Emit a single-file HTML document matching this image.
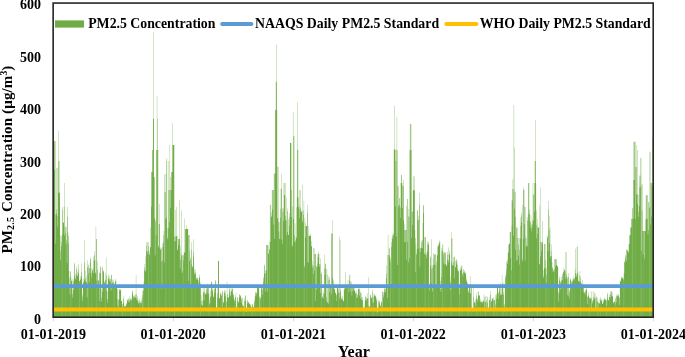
<!DOCTYPE html><html><head><meta charset="utf-8"><title>PM2.5 Concentration</title><style>html,body{margin:0;padding:0;background:#fff;overflow:hidden}</style></head><body><svg width="685" height="357" viewBox="0 0 685 357" style="display:block">
<rect width="685" height="357" fill="#fff"/>
<defs><clipPath id="cp"><rect x="53.2" y="3" width="600.1" height="314.4"/></clipPath></defs>
<g clip-path="url(#cp)"><g id="bars" fill="#70ad47"><path d="M53.40 141.0h0.329V317.4h-0.329zM53.73 141.0h0.329V317.4h-0.329zM54.06 170.0h0.329V317.4h-0.329zM54.39 141.0h0.329V317.4h-0.329zM54.71 141.0h0.329V317.4h-0.329zM55.04 141.0h0.329V317.4h-0.329zM55.37 214.4h0.329V317.4h-0.329zM55.70 243.6h0.329V317.4h-0.329zM56.03 209.6h0.329V317.4h-0.329zM56.36 168.0h0.329V317.4h-0.329zM56.69 213.8h0.329V317.4h-0.329zM57.01 226.8h0.329V317.4h-0.329zM57.34 168.0h0.329V317.4h-0.329zM57.67 216.2h0.329V317.4h-0.329zM58.00 130.7h0.329V317.4h-0.329zM58.33 161.0h0.329V317.4h-0.329zM58.66 192.8h0.329V317.4h-0.329zM58.99 192.8h0.329V317.4h-0.329zM59.31 161.0h0.329V317.4h-0.329zM59.64 192.8h0.329V317.4h-0.329zM59.97 251.2h0.329V317.4h-0.329zM60.30 260.2h0.329V317.4h-0.329zM60.63 235.2h0.329V317.4h-0.329zM60.96 246.2h0.329V317.4h-0.329zM61.29 242.1h0.329V317.4h-0.329zM61.61 236.2h0.329V317.4h-0.329zM61.94 233.9h0.329V317.4h-0.329zM62.27 207.0h0.329V317.4h-0.329zM62.60 210.0h0.329V317.4h-0.329zM62.93 223.0h0.329V317.4h-0.329zM63.26 221.9h0.329V317.4h-0.329zM63.59 223.0h0.329V317.4h-0.329zM63.91 206.6h0.329V317.4h-0.329zM64.24 183.0h0.329V317.4h-0.329zM64.57 235.5h0.329V317.4h-0.329zM64.90 226.8h0.329V317.4h-0.329zM65.23 233.2h0.329V317.4h-0.329zM65.56 226.8h0.329V317.4h-0.329zM65.89 243.9h0.329V317.4h-0.329zM66.21 226.8h0.329V317.4h-0.329zM66.54 240.6h0.329V317.4h-0.329zM66.87 263.0h0.329V317.4h-0.329zM67.20 207.0h0.329V317.4h-0.329zM67.53 217.1h0.329V317.4h-0.329zM67.86 232.5h0.329V317.4h-0.329zM68.19 235.7h0.329V317.4h-0.329zM68.52 243.3h0.329V317.4h-0.329zM68.84 270.9h0.329V317.4h-0.329zM69.17 278.1h0.329V317.4h-0.329zM69.50 285.5h0.329V317.4h-0.329zM69.83 294.3h0.329V317.4h-0.329zM70.16 271.4h0.329V317.4h-0.329zM70.49 271.2h0.329V317.4h-0.329zM70.82 276.1h0.329V317.4h-0.329zM71.14 279.4h0.329V317.4h-0.329zM71.47 281.0h0.329V317.4h-0.329zM71.80 281.3h0.329V317.4h-0.329zM72.13 297.4h0.329V317.4h-0.329zM72.46 294.0h0.329V317.4h-0.329zM72.79 278.6h0.329V317.4h-0.329zM73.12 290.3h0.329V317.4h-0.329zM73.44 281.2h0.329V317.4h-0.329zM73.77 279.6h0.329V317.4h-0.329zM74.10 262.7h0.329V317.4h-0.329zM74.43 264.2h0.329V317.4h-0.329zM74.76 276.1h0.329V317.4h-0.329zM75.09 278.8h0.329V317.4h-0.329zM75.42 273.2h0.329V317.4h-0.329zM75.74 279.6h0.329V317.4h-0.329zM76.07 275.3h0.329V317.4h-0.329zM76.40 268.7h0.329V317.4h-0.329zM76.73 266.2h0.329V317.4h-0.329zM77.06 271.8h0.329V317.4h-0.329zM77.39 276.2h0.329V317.4h-0.329zM77.72 275.2h0.329V317.4h-0.329zM78.04 263.9h0.329V317.4h-0.329zM78.37 273.6h0.329V317.4h-0.329zM78.70 269.6h0.329V317.4h-0.329zM79.03 280.9h0.329V317.4h-0.329zM79.36 280.6h0.329V317.4h-0.329zM79.69 281.2h0.329V317.4h-0.329zM80.02 276.0h0.329V317.4h-0.329zM80.34 280.1h0.329V317.4h-0.329zM80.67 279.0h0.329V317.4h-0.329zM81.00 276.9h0.329V317.4h-0.329zM81.33 263.4h0.329V317.4h-0.329zM81.66 272.1h0.329V317.4h-0.329zM81.99 296.8h0.329V317.4h-0.329zM82.32 293.8h0.329V317.4h-0.329zM82.64 300.7h0.329V317.4h-0.329zM82.97 278.3h0.329V317.4h-0.329zM83.30 282.7h0.329V317.4h-0.329zM83.63 282.6h0.329V317.4h-0.329zM83.96 279.7h0.329V317.4h-0.329zM84.29 262.4h0.329V317.4h-0.329zM84.62 240.0h0.329V317.4h-0.329zM84.94 281.2h0.329V317.4h-0.329zM85.27 278.2h0.329V317.4h-0.329zM85.60 270.4h0.329V317.4h-0.329zM85.93 281.9h0.329V317.4h-0.329zM86.26 282.3h0.329V317.4h-0.329zM86.59 275.4h0.329V317.4h-0.329zM86.92 297.6h0.329V317.4h-0.329zM87.24 260.2h0.329V317.4h-0.329zM87.57 267.2h0.329V317.4h-0.329zM87.90 264.3h0.329V317.4h-0.329zM88.23 265.6h0.329V317.4h-0.329zM88.56 273.6h0.329V317.4h-0.329zM88.89 268.5h0.329V317.4h-0.329zM89.22 282.1h0.329V317.4h-0.329zM89.54 267.9h0.329V317.4h-0.329zM89.87 262.6h0.329V317.4h-0.329zM90.20 258.9h0.329V317.4h-0.329zM90.53 257.5h0.329V317.4h-0.329zM90.86 273.2h0.329V317.4h-0.329zM91.19 277.5h0.329V317.4h-0.329zM91.52 268.1h0.329V317.4h-0.329zM91.84 272.4h0.329V317.4h-0.329zM92.17 269.7h0.329V317.4h-0.329zM92.50 270.3h0.329V317.4h-0.329zM92.83 268.3h0.329V317.4h-0.329zM93.16 273.2h0.329V317.4h-0.329zM93.49 256.5h0.329V317.4h-0.329zM93.82 260.9h0.329V317.4h-0.329zM94.14 255.5h0.329V317.4h-0.329zM94.47 251.4h0.329V317.4h-0.329zM94.80 259.9h0.329V317.4h-0.329zM95.13 272.5h0.329V317.4h-0.329zM95.46 273.5h0.329V317.4h-0.329zM95.79 226.6h0.329V317.4h-0.329zM96.12 239.0h0.329V317.4h-0.329zM96.44 239.0h0.329V317.4h-0.329zM96.77 280.3h0.329V317.4h-0.329zM97.10 261.5h0.329V317.4h-0.329zM97.43 269.8h0.329V317.4h-0.329zM97.76 287.0h0.329V317.4h-0.329zM98.09 280.2h0.329V317.4h-0.329zM98.42 280.8h0.329V317.4h-0.329zM98.75 280.4h0.329V317.4h-0.329zM99.07 272.6h0.329V317.4h-0.329zM99.40 273.3h0.329V317.4h-0.329zM99.73 300.9h0.329V317.4h-0.329zM100.06 273.0h0.329V317.4h-0.329zM100.39 266.6h0.329V317.4h-0.329zM100.72 266.7h0.329V317.4h-0.329zM101.05 288.7h0.329V317.4h-0.329zM101.37 298.1h0.329V317.4h-0.329zM101.70 301.7h0.329V317.4h-0.329zM102.03 266.5h0.329V317.4h-0.329zM102.36 268.2h0.329V317.4h-0.329zM102.69 292.0h0.329V317.4h-0.329zM103.02 271.1h0.329V317.4h-0.329zM103.35 270.6h0.329V317.4h-0.329zM103.67 272.2h0.329V317.4h-0.329zM104.00 281.4h0.329V317.4h-0.329zM104.33 283.2h0.329V317.4h-0.329zM104.66 282.3h0.329V317.4h-0.329zM104.99 272.8h0.329V317.4h-0.329zM105.32 279.5h0.329V317.4h-0.329zM105.65 280.2h0.329V317.4h-0.329zM105.97 257.6h0.329V317.4h-0.329zM106.30 275.4h0.329V317.4h-0.329zM106.63 290.7h0.329V317.4h-0.329zM106.96 299.0h0.329V317.4h-0.329zM107.29 291.4h0.329V317.4h-0.329zM107.62 302.4h0.329V317.4h-0.329zM107.95 276.8h0.329V317.4h-0.329zM108.27 274.4h0.329V317.4h-0.329zM108.60 279.0h0.329V317.4h-0.329zM108.93 279.3h0.329V317.4h-0.329zM109.26 280.9h0.329V317.4h-0.329zM109.59 276.2h0.329V317.4h-0.329zM109.92 282.3h0.329V317.4h-0.329zM110.25 279.3h0.329V317.4h-0.329zM110.57 279.0h0.329V317.4h-0.329zM110.90 290.4h0.329V317.4h-0.329zM111.23 275.0h0.329V317.4h-0.329zM111.56 274.7h0.329V317.4h-0.329zM111.89 284.3h0.329V317.4h-0.329zM112.22 279.7h0.329V317.4h-0.329zM112.55 282.3h0.329V317.4h-0.329zM112.87 282.0h0.329V317.4h-0.329zM113.20 279.3h0.329V317.4h-0.329zM113.53 282.8h0.329V317.4h-0.329zM113.86 285.4h0.329V317.4h-0.329zM114.19 283.5h0.329V317.4h-0.329zM114.52 285.1h0.329V317.4h-0.329zM114.85 283.0h0.329V317.4h-0.329zM115.17 280.8h0.329V317.4h-0.329zM115.50 281.0h0.329V317.4h-0.329zM115.83 278.5h0.329V317.4h-0.329zM116.16 285.3h0.329V317.4h-0.329zM116.49 286.8h0.329V317.4h-0.329zM116.82 287.8h0.329V317.4h-0.329zM117.15 289.0h0.329V317.4h-0.329zM117.47 305.2h0.329V317.4h-0.329zM117.80 299.0h0.329V317.4h-0.329zM118.13 308.0h0.329V317.4h-0.329zM118.46 299.8h0.329V317.4h-0.329zM118.79 299.5h0.329V317.4h-0.329zM119.12 289.3h0.329V317.4h-0.329zM119.45 289.1h0.329V317.4h-0.329zM119.77 290.6h0.329V317.4h-0.329zM120.10 288.8h0.329V317.4h-0.329zM120.43 290.6h0.329V317.4h-0.329zM120.76 290.0h0.329V317.4h-0.329zM121.09 300.6h0.329V317.4h-0.329zM121.42 301.0h0.329V317.4h-0.329zM121.75 301.3h0.329V317.4h-0.329zM122.07 304.4h0.329V317.4h-0.329zM122.40 307.4h0.329V317.4h-0.329zM122.73 303.9h0.329V317.4h-0.329zM123.06 298.4h0.329V317.4h-0.329zM123.39 302.7h0.329V317.4h-0.329zM123.72 296.3h0.329V317.4h-0.329zM124.05 305.8h0.329V317.4h-0.329zM124.37 306.5h0.329V317.4h-0.329zM124.70 306.8h0.329V317.4h-0.329zM125.03 305.9h0.329V317.4h-0.329zM125.36 305.8h0.329V317.4h-0.329zM125.69 306.4h0.329V317.4h-0.329zM126.02 303.9h0.329V317.4h-0.329zM126.35 305.2h0.329V317.4h-0.329zM126.67 303.1h0.329V317.4h-0.329zM127.00 301.0h0.329V317.4h-0.329zM127.33 300.0h0.329V317.4h-0.329zM127.66 299.0h0.329V317.4h-0.329zM127.99 298.5h0.329V317.4h-0.329zM128.32 302.1h0.329V317.4h-0.329zM128.65 299.3h0.329V317.4h-0.329zM128.98 302.2h0.329V317.4h-0.329zM129.30 296.4h0.329V317.4h-0.329zM129.63 300.5h0.329V317.4h-0.329zM129.96 299.4h0.329V317.4h-0.329zM130.29 297.9h0.329V317.4h-0.329zM130.62 300.0h0.329V317.4h-0.329zM130.95 299.6h0.329V317.4h-0.329zM131.28 298.3h0.329V317.4h-0.329zM131.60 300.4h0.329V317.4h-0.329zM131.93 293.5h0.329V317.4h-0.329zM132.26 291.2h0.329V317.4h-0.329zM132.59 290.6h0.329V317.4h-0.329zM132.92 295.6h0.329V317.4h-0.329zM133.25 298.6h0.329V317.4h-0.329zM133.58 296.6h0.329V317.4h-0.329zM133.90 295.0h0.329V317.4h-0.329zM134.23 295.8h0.329V317.4h-0.329zM134.56 297.5h0.329V317.4h-0.329zM134.89 297.6h0.329V317.4h-0.329zM135.22 294.2h0.329V317.4h-0.329zM135.55 297.3h0.329V317.4h-0.329zM135.88 275.1h0.329V317.4h-0.329zM136.20 299.4h0.329V317.4h-0.329zM136.53 294.1h0.329V317.4h-0.329zM136.86 298.1h0.329V317.4h-0.329zM137.19 295.8h0.329V317.4h-0.329zM137.52 300.4h0.329V317.4h-0.329zM137.85 300.9h0.329V317.4h-0.329zM138.18 303.3h0.329V317.4h-0.329zM138.50 303.2h0.329V317.4h-0.329zM138.83 298.4h0.329V317.4h-0.329zM139.16 299.9h0.329V317.4h-0.329zM139.49 302.8h0.329V317.4h-0.329zM139.82 302.4h0.329V317.4h-0.329zM140.15 302.5h0.329V317.4h-0.329zM140.48 301.2h0.329V317.4h-0.329zM140.80 304.5h0.329V317.4h-0.329zM141.13 303.0h0.329V317.4h-0.329zM141.46 300.8h0.329V317.4h-0.329zM141.79 298.3h0.329V317.4h-0.329zM142.12 295.3h0.329V317.4h-0.329zM142.45 290.6h0.329V317.4h-0.329zM142.78 308.3h0.329V317.4h-0.329zM143.10 287.5h0.329V317.4h-0.329zM143.43 290.8h0.329V317.4h-0.329zM143.76 281.4h0.329V317.4h-0.329zM144.09 270.7h0.329V317.4h-0.329zM144.42 267.5h0.329V317.4h-0.329zM144.75 264.1h0.329V317.4h-0.329zM145.08 270.3h0.329V317.4h-0.329zM145.40 256.5h0.329V317.4h-0.329zM145.73 271.4h0.329V317.4h-0.329zM146.06 251.6h0.329V317.4h-0.329zM146.39 245.7h0.329V317.4h-0.329zM146.72 241.7h0.329V317.4h-0.329zM147.05 253.9h0.329V317.4h-0.329zM147.38 242.0h0.329V317.4h-0.329zM147.70 251.3h0.329V317.4h-0.329zM148.03 242.0h0.329V317.4h-0.329zM148.36 245.8h0.329V317.4h-0.329zM148.69 250.3h0.329V317.4h-0.329zM149.02 255.2h0.329V317.4h-0.329zM149.35 251.2h0.329V317.4h-0.329zM149.68 253.9h0.329V317.4h-0.329zM150.00 246.9h0.329V317.4h-0.329zM150.33 227.6h0.329V317.4h-0.329zM150.66 247.2h0.329V317.4h-0.329zM150.99 172.0h0.329V317.4h-0.329zM151.32 206.4h0.329V317.4h-0.329zM151.65 172.0h0.329V317.4h-0.329zM151.98 172.0h0.329V317.4h-0.329zM152.30 150.0h0.329V317.4h-0.329zM152.63 150.0h0.329V317.4h-0.329zM152.96 119.0h0.329V317.4h-0.329zM153.29 119.0h0.329V317.4h-0.329zM153.62 32.2h0.329V317.4h-0.329zM153.95 177.0h0.329V317.4h-0.329zM154.28 218.0h0.329V317.4h-0.329zM154.60 177.0h0.329V317.4h-0.329zM154.93 255.3h0.329V317.4h-0.329zM155.26 219.6h0.329V317.4h-0.329zM155.59 221.6h0.329V317.4h-0.329zM155.92 235.3h0.329V317.4h-0.329zM156.25 150.0h0.329V317.4h-0.329zM156.58 150.0h0.329V317.4h-0.329zM156.90 95.7h0.329V317.4h-0.329zM157.23 119.0h0.329V317.4h-0.329zM157.56 150.0h0.329V317.4h-0.329zM157.89 150.0h0.329V317.4h-0.329zM158.22 245.9h0.329V317.4h-0.329zM158.55 247.3h0.329V317.4h-0.329zM158.88 224.0h0.329V317.4h-0.329zM159.21 204.0h0.329V317.4h-0.329zM159.53 224.0h0.329V317.4h-0.329zM159.86 247.9h0.329V317.4h-0.329zM160.19 250.1h0.329V317.4h-0.329zM160.52 248.9h0.329V317.4h-0.329zM160.85 246.9h0.329V317.4h-0.329zM161.18 261.5h0.329V317.4h-0.329zM161.51 248.2h0.329V317.4h-0.329zM161.83 288.4h0.329V317.4h-0.329zM162.16 260.7h0.329V317.4h-0.329zM162.49 243.6h0.329V317.4h-0.329zM162.82 246.9h0.329V317.4h-0.329zM163.15 242.2h0.329V317.4h-0.329zM163.48 235.0h0.329V317.4h-0.329zM163.81 231.0h0.329V317.4h-0.329zM164.13 174.0h0.329V317.4h-0.329zM164.46 262.4h0.329V317.4h-0.329zM164.79 191.7h0.329V317.4h-0.329zM165.12 191.7h0.329V317.4h-0.329zM165.45 218.9h0.329V317.4h-0.329zM165.78 174.0h0.329V317.4h-0.329zM166.11 217.8h0.329V317.4h-0.329zM166.43 161.0h0.329V317.4h-0.329zM166.76 158.0h0.329V317.4h-0.329zM167.09 237.4h0.329V317.4h-0.329zM167.42 228.0h0.329V317.4h-0.329zM167.75 239.6h0.329V317.4h-0.329zM168.08 228.0h0.329V317.4h-0.329zM168.41 190.0h0.329V317.4h-0.329zM168.73 161.0h0.329V317.4h-0.329zM169.06 222.0h0.329V317.4h-0.329zM169.39 190.0h0.329V317.4h-0.329zM169.72 145.0h0.329V317.4h-0.329zM170.05 190.0h0.329V317.4h-0.329zM170.38 207.8h0.329V317.4h-0.329zM170.71 177.0h0.329V317.4h-0.329zM171.03 190.0h0.329V317.4h-0.329zM171.36 172.0h0.329V317.4h-0.329zM171.69 172.0h0.329V317.4h-0.329zM172.02 172.0h0.329V317.4h-0.329zM172.35 145.0h0.329V317.4h-0.329zM172.68 123.3h0.329V317.4h-0.329zM173.01 145.0h0.329V317.4h-0.329zM173.33 145.0h0.329V317.4h-0.329zM173.66 145.0h0.329V317.4h-0.329zM173.99 145.0h0.329V317.4h-0.329zM174.32 236.4h0.329V317.4h-0.329zM174.65 241.4h0.329V317.4h-0.329zM174.98 210.0h0.329V317.4h-0.329zM175.31 236.4h0.329V317.4h-0.329zM175.63 240.9h0.329V317.4h-0.329zM175.96 236.4h0.329V317.4h-0.329zM176.29 236.0h0.329V317.4h-0.329zM176.62 207.0h0.329V317.4h-0.329zM176.95 236.0h0.329V317.4h-0.329zM177.28 249.2h0.329V317.4h-0.329zM177.61 250.4h0.329V317.4h-0.329zM177.93 239.0h0.329V317.4h-0.329zM178.26 239.0h0.329V317.4h-0.329zM178.59 244.9h0.329V317.4h-0.329zM178.92 239.0h0.329V317.4h-0.329zM179.25 239.0h0.329V317.4h-0.329zM179.58 199.7h0.329V317.4h-0.329zM179.91 268.6h0.329V317.4h-0.329zM180.23 259.9h0.329V317.4h-0.329zM180.56 246.0h0.329V317.4h-0.329zM180.89 253.3h0.329V317.4h-0.329zM181.22 210.5h0.329V317.4h-0.329zM181.55 256.3h0.329V317.4h-0.329zM181.88 272.9h0.329V317.4h-0.329zM182.21 255.0h0.329V317.4h-0.329zM182.53 271.2h0.329V317.4h-0.329zM182.86 255.0h0.329V317.4h-0.329zM183.19 255.2h0.329V317.4h-0.329zM183.52 260.4h0.329V317.4h-0.329zM183.85 251.9h0.329V317.4h-0.329zM184.18 218.8h0.329V317.4h-0.329zM184.51 252.9h0.329V317.4h-0.329zM184.83 252.1h0.329V317.4h-0.329zM185.16 229.0h0.329V317.4h-0.329zM185.49 229.0h0.329V317.4h-0.329zM185.82 229.0h0.329V317.4h-0.329zM186.15 229.0h0.329V317.4h-0.329zM186.48 225.4h0.329V317.4h-0.329zM186.81 229.0h0.329V317.4h-0.329zM187.13 229.0h0.329V317.4h-0.329zM187.46 229.0h0.329V317.4h-0.329zM187.79 229.0h0.329V317.4h-0.329zM188.12 235.0h0.329V317.4h-0.329zM188.45 280.9h0.329V317.4h-0.329zM188.78 235.0h0.329V317.4h-0.329zM189.11 235.0h0.329V317.4h-0.329zM189.44 260.9h0.329V317.4h-0.329zM189.76 250.6h0.329V317.4h-0.329zM190.09 259.4h0.329V317.4h-0.329zM190.42 285.3h0.329V317.4h-0.329zM190.75 257.4h0.329V317.4h-0.329zM191.08 242.2h0.329V317.4h-0.329zM191.41 249.5h0.329V317.4h-0.329zM191.74 264.4h0.329V317.4h-0.329zM192.06 266.0h0.329V317.4h-0.329zM192.39 267.5h0.329V317.4h-0.329zM192.72 266.6h0.329V317.4h-0.329zM193.05 239.3h0.329V317.4h-0.329zM193.38 257.2h0.329V317.4h-0.329zM193.71 251.7h0.329V317.4h-0.329zM194.04 272.4h0.329V317.4h-0.329zM194.36 269.0h0.329V317.4h-0.329zM194.69 274.5h0.329V317.4h-0.329zM195.02 274.3h0.329V317.4h-0.329zM195.35 272.5h0.329V317.4h-0.329zM195.68 269.4h0.329V317.4h-0.329zM196.01 277.6h0.329V317.4h-0.329zM196.34 278.0h0.329V317.4h-0.329zM196.66 280.0h0.329V317.4h-0.329zM196.99 277.7h0.329V317.4h-0.329zM197.32 279.6h0.329V317.4h-0.329zM197.65 278.1h0.329V317.4h-0.329zM197.98 282.1h0.329V317.4h-0.329zM198.31 279.8h0.329V317.4h-0.329zM198.64 284.4h0.329V317.4h-0.329zM198.96 276.7h0.329V317.4h-0.329zM199.29 274.6h0.329V317.4h-0.329zM199.62 278.1h0.329V317.4h-0.329zM199.95 283.4h0.329V317.4h-0.329zM200.28 282.5h0.329V317.4h-0.329zM200.61 286.3h0.329V317.4h-0.329zM200.94 295.0h0.329V317.4h-0.329zM201.26 304.6h0.329V317.4h-0.329zM201.59 300.9h0.329V317.4h-0.329zM201.92 305.4h0.329V317.4h-0.329zM202.25 300.3h0.329V317.4h-0.329zM202.58 305.4h0.329V317.4h-0.329zM202.91 287.1h0.329V317.4h-0.329zM203.24 292.5h0.329V317.4h-0.329zM203.56 292.3h0.329V317.4h-0.329zM203.89 300.2h0.329V317.4h-0.329zM204.22 287.3h0.329V317.4h-0.329zM204.55 291.5h0.329V317.4h-0.329zM204.88 293.7h0.329V317.4h-0.329zM205.21 294.3h0.329V317.4h-0.329zM205.54 293.2h0.329V317.4h-0.329zM205.86 294.4h0.329V317.4h-0.329zM206.19 286.3h0.329V317.4h-0.329zM206.52 291.4h0.329V317.4h-0.329zM206.85 288.8h0.329V317.4h-0.329zM207.18 283.7h0.329V317.4h-0.329zM207.51 286.3h0.329V317.4h-0.329zM207.84 293.9h0.329V317.4h-0.329zM208.16 287.6h0.329V317.4h-0.329zM208.49 286.5h0.329V317.4h-0.329zM208.82 293.3h0.329V317.4h-0.329zM209.15 299.6h0.329V317.4h-0.329zM209.48 304.5h0.329V317.4h-0.329zM209.81 303.3h0.329V317.4h-0.329zM210.14 290.6h0.329V317.4h-0.329zM210.46 296.8h0.329V317.4h-0.329zM210.79 296.4h0.329V317.4h-0.329zM211.12 282.4h0.329V317.4h-0.329zM211.45 282.3h0.329V317.4h-0.329zM211.78 281.3h0.329V317.4h-0.329zM212.11 289.8h0.329V317.4h-0.329zM212.44 291.8h0.329V317.4h-0.329zM212.76 286.3h0.329V317.4h-0.329zM213.09 297.6h0.329V317.4h-0.329zM213.42 295.4h0.329V317.4h-0.329zM213.75 296.8h0.329V317.4h-0.329zM214.08 289.0h0.329V317.4h-0.329zM214.41 288.6h0.329V317.4h-0.329zM214.74 293.3h0.329V317.4h-0.329zM215.06 283.4h0.329V317.4h-0.329zM215.39 279.8h0.329V317.4h-0.329zM215.72 280.6h0.329V317.4h-0.329zM216.05 308.2h0.329V317.4h-0.329zM216.38 307.8h0.329V317.4h-0.329zM216.71 306.9h0.329V317.4h-0.329zM217.04 297.3h0.329V317.4h-0.329zM217.36 293.2h0.329V317.4h-0.329zM217.69 286.4h0.329V317.4h-0.329zM218.02 260.9h0.329V317.4h-0.329zM218.35 260.9h0.329V317.4h-0.329zM218.68 261.0h0.329V317.4h-0.329zM219.01 298.3h0.329V317.4h-0.329zM219.34 298.2h0.329V317.4h-0.329zM219.67 298.3h0.329V317.4h-0.329zM219.99 291.8h0.329V317.4h-0.329zM220.32 294.3h0.329V317.4h-0.329zM220.65 294.3h0.329V317.4h-0.329zM220.98 296.1h0.329V317.4h-0.329zM221.31 293.6h0.329V317.4h-0.329zM221.64 295.4h0.329V317.4h-0.329zM221.97 306.9h0.329V317.4h-0.329zM222.29 290.5h0.329V317.4h-0.329zM222.62 292.0h0.329V317.4h-0.329zM222.95 303.3h0.329V317.4h-0.329zM223.28 302.2h0.329V317.4h-0.329zM223.61 301.6h0.329V317.4h-0.329zM223.94 292.2h0.329V317.4h-0.329zM224.27 292.5h0.329V317.4h-0.329zM224.59 289.7h0.329V317.4h-0.329zM224.92 296.3h0.329V317.4h-0.329zM225.25 290.8h0.329V317.4h-0.329zM225.58 294.2h0.329V317.4h-0.329zM225.91 307.2h0.329V317.4h-0.329zM226.24 301.2h0.329V317.4h-0.329zM226.57 301.6h0.329V317.4h-0.329zM226.89 281.7h0.329V317.4h-0.329zM227.22 297.1h0.329V317.4h-0.329zM227.55 294.3h0.329V317.4h-0.329zM227.88 297.5h0.329V317.4h-0.329zM228.21 297.8h0.329V317.4h-0.329zM228.54 297.5h0.329V317.4h-0.329zM228.87 294.2h0.329V317.4h-0.329zM229.19 289.2h0.329V317.4h-0.329zM229.52 287.1h0.329V317.4h-0.329zM229.85 291.8h0.329V317.4h-0.329zM230.18 296.2h0.329V317.4h-0.329zM230.51 295.2h0.329V317.4h-0.329zM230.84 287.5h0.329V317.4h-0.329zM231.17 290.8h0.329V317.4h-0.329zM231.49 291.6h0.329V317.4h-0.329zM231.82 288.9h0.329V317.4h-0.329zM232.15 287.0h0.329V317.4h-0.329zM232.48 289.2h0.329V317.4h-0.329zM232.81 292.9h0.329V317.4h-0.329zM233.14 295.0h0.329V317.4h-0.329zM233.47 295.1h0.329V317.4h-0.329zM233.79 298.5h0.329V317.4h-0.329zM234.12 300.3h0.329V317.4h-0.329zM234.45 299.4h0.329V317.4h-0.329zM234.78 301.6h0.329V317.4h-0.329zM235.11 297.0h0.329V317.4h-0.329zM235.44 296.7h0.329V317.4h-0.329zM235.77 293.2h0.329V317.4h-0.329zM236.09 310.4h0.329V317.4h-0.329zM236.42 311.6h0.329V317.4h-0.329zM236.75 306.5h0.329V317.4h-0.329zM237.08 298.6h0.329V317.4h-0.329zM237.41 297.1h0.329V317.4h-0.329zM237.74 301.0h0.329V317.4h-0.329zM238.07 301.3h0.329V317.4h-0.329zM238.39 303.0h0.329V317.4h-0.329zM238.72 301.8h0.329V317.4h-0.329zM239.05 294.1h0.329V317.4h-0.329zM239.38 295.0h0.329V317.4h-0.329zM239.71 297.6h0.329V317.4h-0.329zM240.04 296.6h0.329V317.4h-0.329zM240.37 295.7h0.329V317.4h-0.329zM240.69 294.9h0.329V317.4h-0.329zM241.02 298.9h0.329V317.4h-0.329zM241.35 298.0h0.329V317.4h-0.329zM241.68 302.5h0.329V317.4h-0.329zM242.01 304.5h0.329V317.4h-0.329zM242.34 297.6h0.329V317.4h-0.329zM242.67 306.0h0.329V317.4h-0.329zM242.99 306.0h0.329V317.4h-0.329zM243.32 305.6h0.329V317.4h-0.329zM243.65 306.3h0.329V317.4h-0.329zM243.98 301.0h0.329V317.4h-0.329zM244.31 309.9h0.329V317.4h-0.329zM244.64 298.2h0.329V317.4h-0.329zM244.97 295.4h0.329V317.4h-0.329zM245.29 301.1h0.329V317.4h-0.329zM245.62 295.5h0.329V317.4h-0.329zM245.95 311.4h0.329V317.4h-0.329zM246.28 310.4h0.329V317.4h-0.329zM246.61 311.7h0.329V317.4h-0.329zM246.94 299.8h0.329V317.4h-0.329zM247.27 300.5h0.329V317.4h-0.329zM247.59 303.5h0.329V317.4h-0.329zM247.92 302.0h0.329V317.4h-0.329zM248.25 302.3h0.329V317.4h-0.329zM248.58 302.7h0.329V317.4h-0.329zM248.91 302.8h0.329V317.4h-0.329zM249.24 304.1h0.329V317.4h-0.329zM249.57 304.5h0.329V317.4h-0.329zM249.90 304.1h0.329V317.4h-0.329zM250.22 305.8h0.329V317.4h-0.329zM250.55 304.4h0.329V317.4h-0.329zM250.88 307.0h0.329V317.4h-0.329zM251.21 306.9h0.329V317.4h-0.329zM251.54 307.9h0.329V317.4h-0.329zM251.87 304.9h0.329V317.4h-0.329zM252.20 304.3h0.329V317.4h-0.329zM252.52 303.9h0.329V317.4h-0.329zM252.85 306.6h0.329V317.4h-0.329zM253.18 307.6h0.329V317.4h-0.329zM253.51 307.7h0.329V317.4h-0.329zM253.84 306.2h0.329V317.4h-0.329zM254.17 302.2h0.329V317.4h-0.329zM254.50 300.5h0.329V317.4h-0.329zM254.82 296.3h0.329V317.4h-0.329zM255.15 291.7h0.329V317.4h-0.329zM255.48 292.9h0.329V317.4h-0.329zM255.81 296.2h0.329V317.4h-0.329zM256.14 292.5h0.329V317.4h-0.329zM256.47 293.6h0.329V317.4h-0.329zM256.80 292.4h0.329V317.4h-0.329zM257.12 286.4h0.329V317.4h-0.329zM257.45 286.2h0.329V317.4h-0.329zM257.78 288.1h0.329V317.4h-0.329zM258.11 286.1h0.329V317.4h-0.329zM258.44 286.0h0.329V317.4h-0.329zM258.77 286.9h0.329V317.4h-0.329zM259.10 297.4h0.329V317.4h-0.329zM259.42 308.9h0.329V317.4h-0.329zM259.75 295.7h0.329V317.4h-0.329zM260.08 298.9h0.329V317.4h-0.329zM260.41 297.6h0.329V317.4h-0.329zM260.74 297.0h0.329V317.4h-0.329zM261.07 287.6h0.329V317.4h-0.329zM261.40 286.7h0.329V317.4h-0.329zM261.72 287.9h0.329V317.4h-0.329zM262.05 294.7h0.329V317.4h-0.329zM262.38 290.0h0.329V317.4h-0.329zM262.71 286.1h0.329V317.4h-0.329zM263.04 282.5h0.329V317.4h-0.329zM263.37 277.1h0.329V317.4h-0.329zM263.70 278.5h0.329V317.4h-0.329zM264.02 273.5h0.329V317.4h-0.329zM264.35 265.4h0.329V317.4h-0.329zM264.68 264.5h0.329V317.4h-0.329zM265.01 273.2h0.329V317.4h-0.329zM265.34 270.0h0.329V317.4h-0.329zM265.67 291.4h0.329V317.4h-0.329zM266.00 270.5h0.329V317.4h-0.329zM266.32 245.0h0.329V317.4h-0.329zM266.65 245.0h0.329V317.4h-0.329zM266.98 291.9h0.329V317.4h-0.329zM267.31 245.0h0.329V317.4h-0.329zM267.64 245.0h0.329V317.4h-0.329zM267.97 245.5h0.329V317.4h-0.329zM268.30 253.1h0.329V317.4h-0.329zM268.62 254.0h0.329V317.4h-0.329zM268.95 240.6h0.329V317.4h-0.329zM269.28 249.3h0.329V317.4h-0.329zM269.61 249.7h0.329V317.4h-0.329zM269.94 204.8h0.329V317.4h-0.329zM270.27 242.0h0.329V317.4h-0.329zM270.60 204.8h0.329V317.4h-0.329zM270.92 216.8h0.329V317.4h-0.329zM271.25 216.6h0.329V317.4h-0.329zM271.58 212.4h0.329V317.4h-0.329zM271.91 190.0h0.329V317.4h-0.329zM272.24 190.0h0.329V317.4h-0.329zM272.57 209.3h0.329V317.4h-0.329zM272.90 190.0h0.329V317.4h-0.329zM273.22 190.0h0.329V317.4h-0.329zM273.55 224.4h0.329V317.4h-0.329zM273.88 173.4h0.329V317.4h-0.329zM274.21 238.8h0.329V317.4h-0.329zM274.54 173.4h0.329V317.4h-0.329zM274.87 173.4h0.329V317.4h-0.329zM275.20 110.0h0.329V317.4h-0.329zM275.52 110.0h0.329V317.4h-0.329zM275.85 81.7h0.329V317.4h-0.329zM276.18 44.4h0.329V317.4h-0.329zM276.51 81.7h0.329V317.4h-0.329zM276.84 110.0h0.329V317.4h-0.329zM277.17 218.3h0.329V317.4h-0.329zM277.50 166.8h0.329V317.4h-0.329zM277.82 218.3h0.329V317.4h-0.329zM278.15 166.8h0.329V317.4h-0.329zM278.48 222.0h0.329V317.4h-0.329zM278.81 231.5h0.329V317.4h-0.329zM279.14 239.0h0.329V317.4h-0.329zM279.47 222.0h0.329V317.4h-0.329zM279.80 239.0h0.329V317.4h-0.329zM280.13 208.8h0.329V317.4h-0.329zM280.45 217.8h0.329V317.4h-0.329zM280.78 188.7h0.329V317.4h-0.329zM281.11 174.0h0.329V317.4h-0.329zM281.44 188.7h0.329V317.4h-0.329zM281.77 239.7h0.329V317.4h-0.329zM282.10 207.7h0.329V317.4h-0.329zM282.43 244.0h0.329V317.4h-0.329zM282.75 211.7h0.329V317.4h-0.329zM283.08 221.2h0.329V317.4h-0.329zM283.41 208.6h0.329V317.4h-0.329zM283.74 183.0h0.329V317.4h-0.329zM284.07 195.0h0.329V317.4h-0.329zM284.40 183.0h0.329V317.4h-0.329zM284.73 195.0h0.329V317.4h-0.329zM285.05 183.0h0.329V317.4h-0.329zM285.38 220.1h0.329V317.4h-0.329zM285.71 216.1h0.329V317.4h-0.329zM286.04 197.5h0.329V317.4h-0.329zM286.37 220.4h0.329V317.4h-0.329zM286.70 235.0h0.329V317.4h-0.329zM287.03 211.2h0.329V317.4h-0.329zM287.35 232.0h0.329V317.4h-0.329zM287.68 208.5h0.329V317.4h-0.329zM288.01 235.0h0.329V317.4h-0.329zM288.34 219.3h0.329V317.4h-0.329zM288.67 235.0h0.329V317.4h-0.329zM289.00 217.3h0.329V317.4h-0.329zM289.33 225.8h0.329V317.4h-0.329zM289.65 213.1h0.329V317.4h-0.329zM289.98 143.0h0.329V317.4h-0.329zM290.31 143.0h0.329V317.4h-0.329zM290.64 143.0h0.329V317.4h-0.329zM290.97 143.0h0.329V317.4h-0.329zM291.30 217.0h0.329V317.4h-0.329zM291.63 190.0h0.329V317.4h-0.329zM291.95 246.8h0.329V317.4h-0.329zM292.28 206.5h0.329V317.4h-0.329zM292.61 245.2h0.329V317.4h-0.329zM292.94 112.3h0.329V317.4h-0.329zM293.27 219.0h0.329V317.4h-0.329zM293.60 136.0h0.329V317.4h-0.329zM293.93 136.0h0.329V317.4h-0.329zM294.25 242.0h0.329V317.4h-0.329zM294.58 235.5h0.329V317.4h-0.329zM294.91 223.5h0.329V317.4h-0.329zM295.24 242.0h0.329V317.4h-0.329zM295.57 239.9h0.329V317.4h-0.329zM295.90 237.1h0.329V317.4h-0.329zM296.23 207.3h0.329V317.4h-0.329zM296.55 237.9h0.329V317.4h-0.329zM296.88 197.5h0.329V317.4h-0.329zM297.21 150.0h0.329V317.4h-0.329zM297.54 102.2h0.329V317.4h-0.329zM297.87 150.0h0.329V317.4h-0.329zM298.20 197.5h0.329V317.4h-0.329zM298.53 207.3h0.329V317.4h-0.329zM298.85 205.8h0.329V317.4h-0.329zM299.18 218.1h0.329V317.4h-0.329zM299.51 190.0h0.329V317.4h-0.329zM299.84 209.5h0.329V317.4h-0.329zM300.17 190.0h0.329V317.4h-0.329zM300.50 207.6h0.329V317.4h-0.329zM300.83 211.7h0.329V317.4h-0.329zM301.15 210.3h0.329V317.4h-0.329zM301.48 211.8h0.329V317.4h-0.329zM301.81 211.7h0.329V317.4h-0.329zM302.14 220.6h0.329V317.4h-0.329zM302.47 184.4h0.329V317.4h-0.329zM302.80 222.7h0.329V317.4h-0.329zM303.13 215.0h0.329V317.4h-0.329zM303.45 210.4h0.329V317.4h-0.329zM303.78 200.4h0.329V317.4h-0.329zM304.11 265.2h0.329V317.4h-0.329zM304.44 267.3h0.329V317.4h-0.329zM304.77 218.3h0.329V317.4h-0.329zM305.10 237.6h0.329V317.4h-0.329zM305.43 222.5h0.329V317.4h-0.329zM305.75 226.0h0.329V317.4h-0.329zM306.08 226.0h0.329V317.4h-0.329zM306.41 226.0h0.329V317.4h-0.329zM306.74 226.0h0.329V317.4h-0.329zM307.07 213.0h0.329V317.4h-0.329zM307.40 204.8h0.329V317.4h-0.329zM307.73 262.6h0.329V317.4h-0.329zM308.05 226.0h0.329V317.4h-0.329zM308.38 262.4h0.329V317.4h-0.329zM308.71 236.0h0.329V317.4h-0.329zM309.04 236.0h0.329V317.4h-0.329zM309.37 234.4h0.329V317.4h-0.329zM309.70 236.0h0.329V317.4h-0.329zM310.03 233.5h0.329V317.4h-0.329zM310.36 236.0h0.329V317.4h-0.329zM310.68 236.0h0.329V317.4h-0.329zM311.01 240.9h0.329V317.4h-0.329zM311.34 246.1h0.329V317.4h-0.329zM311.67 246.6h0.329V317.4h-0.329zM312.00 264.8h0.329V317.4h-0.329zM312.33 260.7h0.329V317.4h-0.329zM312.66 268.0h0.329V317.4h-0.329zM312.98 274.0h0.329V317.4h-0.329zM313.31 248.0h0.329V317.4h-0.329zM313.64 265.9h0.329V317.4h-0.329zM313.97 248.0h0.329V317.4h-0.329zM314.30 270.6h0.329V317.4h-0.329zM314.63 254.0h0.329V317.4h-0.329zM314.96 301.1h0.329V317.4h-0.329zM315.28 254.0h0.329V317.4h-0.329zM315.61 254.0h0.329V317.4h-0.329zM315.94 266.1h0.329V317.4h-0.329zM316.27 289.7h0.329V317.4h-0.329zM316.60 266.1h0.329V317.4h-0.329zM316.93 267.3h0.329V317.4h-0.329zM317.26 263.6h0.329V317.4h-0.329zM317.58 254.0h0.329V317.4h-0.329zM317.91 257.0h0.329V317.4h-0.329zM318.24 254.0h0.329V317.4h-0.329zM318.57 251.6h0.329V317.4h-0.329zM318.90 254.0h0.329V317.4h-0.329zM319.23 266.4h0.329V317.4h-0.329zM319.56 264.0h0.329V317.4h-0.329zM319.88 264.3h0.329V317.4h-0.329zM320.21 293.1h0.329V317.4h-0.329zM320.54 258.4h0.329V317.4h-0.329zM320.87 273.5h0.329V317.4h-0.329zM321.20 272.1h0.329V317.4h-0.329zM321.53 273.9h0.329V317.4h-0.329zM321.86 297.6h0.329V317.4h-0.329zM322.18 296.2h0.329V317.4h-0.329zM322.51 297.8h0.329V317.4h-0.329zM322.84 290.4h0.329V317.4h-0.329zM323.17 293.6h0.329V317.4h-0.329zM323.50 298.8h0.329V317.4h-0.329zM323.83 293.7h0.329V317.4h-0.329zM324.16 268.1h0.329V317.4h-0.329zM324.48 254.6h0.329V317.4h-0.329zM324.81 274.9h0.329V317.4h-0.329zM325.14 264.1h0.329V317.4h-0.329zM325.47 263.5h0.329V317.4h-0.329zM325.80 269.3h0.329V317.4h-0.329zM326.13 297.1h0.329V317.4h-0.329zM326.46 301.3h0.329V317.4h-0.329zM326.78 268.8h0.329V317.4h-0.329zM327.11 274.5h0.329V317.4h-0.329zM327.44 302.5h0.329V317.4h-0.329zM327.77 302.7h0.329V317.4h-0.329zM328.10 303.8h0.329V317.4h-0.329zM328.43 276.3h0.329V317.4h-0.329zM328.76 279.6h0.329V317.4h-0.329zM329.08 277.2h0.329V317.4h-0.329zM329.41 279.9h0.329V317.4h-0.329zM329.74 292.3h0.329V317.4h-0.329zM330.07 285.3h0.329V317.4h-0.329zM330.40 285.3h0.329V317.4h-0.329zM330.73 285.1h0.329V317.4h-0.329zM331.06 294.2h0.329V317.4h-0.329zM331.38 233.4h0.329V317.4h-0.329zM331.71 233.4h0.329V317.4h-0.329zM332.04 220.3h0.329V317.4h-0.329zM332.37 233.4h0.329V317.4h-0.329zM332.70 278.1h0.329V317.4h-0.329zM333.03 283.3h0.329V317.4h-0.329zM333.36 279.9h0.329V317.4h-0.329zM333.68 285.3h0.329V317.4h-0.329zM334.01 289.7h0.329V317.4h-0.329zM334.34 285.2h0.329V317.4h-0.329zM334.67 289.0h0.329V317.4h-0.329zM335.00 293.2h0.329V317.4h-0.329zM335.33 291.8h0.329V317.4h-0.329zM335.66 293.0h0.329V317.4h-0.329zM335.98 300.9h0.329V317.4h-0.329zM336.31 295.3h0.329V317.4h-0.329zM336.64 294.6h0.329V317.4h-0.329zM336.97 287.1h0.329V317.4h-0.329zM337.30 287.8h0.329V317.4h-0.329zM337.63 286.6h0.329V317.4h-0.329zM337.96 290.1h0.329V317.4h-0.329zM338.28 286.6h0.329V317.4h-0.329zM338.61 293.1h0.329V317.4h-0.329zM338.94 292.7h0.329V317.4h-0.329zM339.27 298.7h0.329V317.4h-0.329zM339.60 236.8h0.329V317.4h-0.329zM339.93 240.0h0.329V317.4h-0.329zM340.26 291.4h0.329V317.4h-0.329zM340.59 289.4h0.329V317.4h-0.329zM340.91 296.6h0.329V317.4h-0.329zM341.24 299.2h0.329V317.4h-0.329zM341.57 297.9h0.329V317.4h-0.329zM341.90 299.6h0.329V317.4h-0.329zM342.23 299.2h0.329V317.4h-0.329zM342.56 295.7h0.329V317.4h-0.329zM342.89 300.6h0.329V317.4h-0.329zM343.21 301.2h0.329V317.4h-0.329zM343.54 301.0h0.329V317.4h-0.329zM343.87 289.3h0.329V317.4h-0.329zM344.20 289.8h0.329V317.4h-0.329zM344.53 286.8h0.329V317.4h-0.329zM344.86 284.7h0.329V317.4h-0.329zM345.19 271.8h0.329V317.4h-0.329zM345.51 286.5h0.329V317.4h-0.329zM345.84 286.2h0.329V317.4h-0.329zM346.17 287.8h0.329V317.4h-0.329zM346.50 287.5h0.329V317.4h-0.329zM346.83 287.4h0.329V317.4h-0.329zM347.16 285.6h0.329V317.4h-0.329zM347.49 284.8h0.329V317.4h-0.329zM347.81 279.7h0.329V317.4h-0.329zM348.14 288.1h0.329V317.4h-0.329zM348.47 286.3h0.329V317.4h-0.329zM348.80 291.9h0.329V317.4h-0.329zM349.13 275.5h0.329V317.4h-0.329zM349.46 280.4h0.329V317.4h-0.329zM349.79 274.5h0.329V317.4h-0.329zM350.11 284.7h0.329V317.4h-0.329zM350.44 281.6h0.329V317.4h-0.329zM350.77 291.6h0.329V317.4h-0.329zM351.10 287.9h0.329V317.4h-0.329zM351.43 281.5h0.329V317.4h-0.329zM351.76 295.5h0.329V317.4h-0.329zM352.09 287.1h0.329V317.4h-0.329zM352.41 286.8h0.329V317.4h-0.329zM352.74 290.7h0.329V317.4h-0.329zM353.07 286.7h0.329V317.4h-0.329zM353.40 286.5h0.329V317.4h-0.329zM353.73 288.6h0.329V317.4h-0.329zM354.06 288.1h0.329V317.4h-0.329zM354.39 290.9h0.329V317.4h-0.329zM354.71 290.6h0.329V317.4h-0.329zM355.04 293.5h0.329V317.4h-0.329zM355.37 292.4h0.329V317.4h-0.329zM355.70 291.8h0.329V317.4h-0.329zM356.03 294.1h0.329V317.4h-0.329zM356.36 297.9h0.329V317.4h-0.329zM356.69 290.3h0.329V317.4h-0.329zM357.01 293.9h0.329V317.4h-0.329zM357.34 295.2h0.329V317.4h-0.329zM357.67 297.8h0.329V317.4h-0.329zM358.00 289.2h0.329V317.4h-0.329zM358.33 288.4h0.329V317.4h-0.329zM358.66 288.7h0.329V317.4h-0.329zM358.99 295.5h0.329V317.4h-0.329zM359.31 289.6h0.329V317.4h-0.329zM359.64 288.0h0.329V317.4h-0.329zM359.97 298.4h0.329V317.4h-0.329zM360.30 291.2h0.329V317.4h-0.329zM360.63 292.9h0.329V317.4h-0.329zM360.96 296.9h0.329V317.4h-0.329zM361.29 292.9h0.329V317.4h-0.329zM361.61 299.5h0.329V317.4h-0.329zM361.94 299.7h0.329V317.4h-0.329zM362.27 297.0h0.329V317.4h-0.329zM362.60 300.5h0.329V317.4h-0.329zM362.93 309.1h0.329V317.4h-0.329zM363.26 308.8h0.329V317.4h-0.329zM363.59 311.2h0.329V317.4h-0.329zM363.91 304.7h0.329V317.4h-0.329zM364.24 309.5h0.329V317.4h-0.329zM364.57 307.1h0.329V317.4h-0.329zM364.90 299.9h0.329V317.4h-0.329zM365.23 295.4h0.329V317.4h-0.329zM365.56 297.3h0.329V317.4h-0.329zM365.89 300.9h0.329V317.4h-0.329zM366.21 297.2h0.329V317.4h-0.329zM366.54 299.2h0.329V317.4h-0.329zM366.87 298.1h0.329V317.4h-0.329zM367.20 293.2h0.329V317.4h-0.329zM367.53 299.0h0.329V317.4h-0.329zM367.86 297.9h0.329V317.4h-0.329zM368.19 305.5h0.329V317.4h-0.329zM368.52 277.3h0.329V317.4h-0.329zM368.84 310.0h0.329V317.4h-0.329zM369.17 306.5h0.329V317.4h-0.329zM369.50 306.4h0.329V317.4h-0.329zM369.83 306.9h0.329V317.4h-0.329zM370.16 294.6h0.329V317.4h-0.329zM370.49 295.2h0.329V317.4h-0.329zM370.82 297.0h0.329V317.4h-0.329zM371.14 297.7h0.329V317.4h-0.329zM371.47 297.8h0.329V317.4h-0.329zM371.80 298.2h0.329V317.4h-0.329zM372.13 289.5h0.329V317.4h-0.329zM372.46 292.4h0.329V317.4h-0.329zM372.79 302.6h0.329V317.4h-0.329zM373.12 296.9h0.329V317.4h-0.329zM373.44 302.6h0.329V317.4h-0.329zM373.77 294.6h0.329V317.4h-0.329zM374.10 293.8h0.329V317.4h-0.329zM374.43 296.1h0.329V317.4h-0.329zM374.76 295.6h0.329V317.4h-0.329zM375.09 296.3h0.329V317.4h-0.329zM375.42 296.6h0.329V317.4h-0.329zM375.74 295.0h0.329V317.4h-0.329zM376.07 301.1h0.329V317.4h-0.329zM376.40 299.2h0.329V317.4h-0.329zM376.73 297.5h0.329V317.4h-0.329zM377.06 310.5h0.329V317.4h-0.329zM377.39 312.4h0.329V317.4h-0.329zM377.72 311.7h0.329V317.4h-0.329zM378.04 307.6h0.329V317.4h-0.329zM378.37 302.1h0.329V317.4h-0.329zM378.70 299.5h0.329V317.4h-0.329zM379.03 300.5h0.329V317.4h-0.329zM379.36 303.6h0.329V317.4h-0.329zM379.69 301.5h0.329V317.4h-0.329zM380.02 305.2h0.329V317.4h-0.329zM380.34 306.6h0.329V317.4h-0.329zM380.67 305.5h0.329V317.4h-0.329zM381.00 301.7h0.329V317.4h-0.329zM381.33 301.2h0.329V317.4h-0.329zM381.66 302.9h0.329V317.4h-0.329zM381.99 307.8h0.329V317.4h-0.329zM382.32 291.9h0.329V317.4h-0.329zM382.64 290.8h0.329V317.4h-0.329zM382.97 297.5h0.329V317.4h-0.329zM383.30 291.9h0.329V317.4h-0.329zM383.63 295.2h0.329V317.4h-0.329zM383.96 292.2h0.329V317.4h-0.329zM384.29 285.4h0.329V317.4h-0.329zM384.62 289.1h0.329V317.4h-0.329zM384.94 289.7h0.329V317.4h-0.329zM385.27 292.4h0.329V317.4h-0.329zM385.60 285.4h0.329V317.4h-0.329zM385.93 278.6h0.329V317.4h-0.329zM386.26 273.4h0.329V317.4h-0.329zM386.59 265.6h0.329V317.4h-0.329zM386.92 287.5h0.329V317.4h-0.329zM387.24 297.9h0.329V317.4h-0.329zM387.57 255.0h0.329V317.4h-0.329zM387.90 235.0h0.329V317.4h-0.329zM388.23 255.0h0.329V317.4h-0.329zM388.56 286.4h0.329V317.4h-0.329zM388.89 248.8h0.329V317.4h-0.329zM389.22 255.4h0.329V317.4h-0.329zM389.54 247.9h0.329V317.4h-0.329zM389.87 258.8h0.329V317.4h-0.329zM390.20 262.1h0.329V317.4h-0.329zM390.53 256.9h0.329V317.4h-0.329zM390.86 283.9h0.329V317.4h-0.329zM391.19 242.0h0.329V317.4h-0.329zM391.52 247.0h0.329V317.4h-0.329zM391.84 237.8h0.329V317.4h-0.329zM392.17 238.9h0.329V317.4h-0.329zM392.50 235.2h0.329V317.4h-0.329zM392.83 232.7h0.329V317.4h-0.329zM393.16 236.0h0.329V317.4h-0.329zM393.49 233.9h0.329V317.4h-0.329zM393.82 149.5h0.329V317.4h-0.329zM394.14 149.5h0.329V317.4h-0.329zM394.47 105.7h0.329V317.4h-0.329zM394.80 149.5h0.329V317.4h-0.329zM395.13 149.5h0.329V317.4h-0.329zM395.46 206.2h0.329V317.4h-0.329zM395.79 161.0h0.329V317.4h-0.329zM396.12 236.2h0.329V317.4h-0.329zM396.44 150.0h0.329V317.4h-0.329zM396.77 116.7h0.329V317.4h-0.329zM397.10 150.0h0.329V317.4h-0.329zM397.43 265.0h0.329V317.4h-0.329zM397.76 185.8h0.329V317.4h-0.329zM398.09 205.0h0.329V317.4h-0.329zM398.42 185.8h0.329V317.4h-0.329zM398.75 207.2h0.329V317.4h-0.329zM399.07 198.0h0.329V317.4h-0.329zM399.40 204.9h0.329V317.4h-0.329zM399.73 198.0h0.329V317.4h-0.329zM400.06 218.0h0.329V317.4h-0.329zM400.39 207.4h0.329V317.4h-0.329zM400.72 183.0h0.329V317.4h-0.329zM401.05 174.9h0.329V317.4h-0.329zM401.37 183.0h0.329V317.4h-0.329zM401.70 174.9h0.329V317.4h-0.329zM402.03 183.0h0.329V317.4h-0.329zM402.36 208.0h0.329V317.4h-0.329zM402.69 186.0h0.329V317.4h-0.329zM403.02 180.0h0.329V317.4h-0.329zM403.35 186.0h0.329V317.4h-0.329zM403.67 220.2h0.329V317.4h-0.329zM404.00 230.0h0.329V317.4h-0.329zM404.33 242.6h0.329V317.4h-0.329zM404.66 223.6h0.329V317.4h-0.329zM404.99 230.0h0.329V317.4h-0.329zM405.32 230.0h0.329V317.4h-0.329zM405.65 242.1h0.329V317.4h-0.329zM405.97 260.0h0.329V317.4h-0.329zM406.30 206.1h0.329V317.4h-0.329zM406.63 230.0h0.329V317.4h-0.329zM406.96 199.0h0.329V317.4h-0.329zM407.29 241.7h0.329V317.4h-0.329zM407.62 199.0h0.329V317.4h-0.329zM407.95 208.8h0.329V317.4h-0.329zM408.27 262.3h0.329V317.4h-0.329zM408.60 216.4h0.329V317.4h-0.329zM408.93 216.4h0.329V317.4h-0.329zM409.26 150.0h0.329V317.4h-0.329zM409.59 258.5h0.329V317.4h-0.329zM409.92 124.1h0.329V317.4h-0.329zM410.25 150.0h0.329V317.4h-0.329zM410.57 124.1h0.329V317.4h-0.329zM410.90 124.1h0.329V317.4h-0.329zM411.23 150.0h0.329V317.4h-0.329zM411.56 237.8h0.329V317.4h-0.329zM411.89 212.1h0.329V317.4h-0.329zM412.22 225.1h0.329V317.4h-0.329zM412.55 211.2h0.329V317.4h-0.329zM412.87 190.2h0.329V317.4h-0.329zM413.20 176.3h0.329V317.4h-0.329zM413.53 190.2h0.329V317.4h-0.329zM413.86 190.2h0.329V317.4h-0.329zM414.19 176.3h0.329V317.4h-0.329zM414.52 190.2h0.329V317.4h-0.329zM414.85 230.1h0.329V317.4h-0.329zM415.17 238.0h0.329V317.4h-0.329zM415.50 271.7h0.329V317.4h-0.329zM415.83 243.6h0.329V317.4h-0.329zM416.16 255.0h0.329V317.4h-0.329zM416.49 253.3h0.329V317.4h-0.329zM416.82 249.2h0.329V317.4h-0.329zM417.15 210.6h0.329V317.4h-0.329zM417.47 210.1h0.329V317.4h-0.329zM417.80 220.0h0.329V317.4h-0.329zM418.13 220.0h0.329V317.4h-0.329zM418.46 215.5h0.329V317.4h-0.329zM418.79 248.4h0.329V317.4h-0.329zM419.12 204.4h0.329V317.4h-0.329zM419.45 193.0h0.329V317.4h-0.329zM419.77 266.4h0.329V317.4h-0.329zM420.10 248.0h0.329V317.4h-0.329zM420.43 252.1h0.329V317.4h-0.329zM420.76 248.0h0.329V317.4h-0.329zM421.09 247.8h0.329V317.4h-0.329zM421.42 241.1h0.329V317.4h-0.329zM421.75 242.3h0.329V317.4h-0.329zM422.07 240.1h0.329V317.4h-0.329zM422.40 248.0h0.329V317.4h-0.329zM422.73 223.0h0.329V317.4h-0.329zM423.06 205.5h0.329V317.4h-0.329zM423.39 205.1h0.329V317.4h-0.329zM423.72 213.1h0.329V317.4h-0.329zM424.05 253.5h0.329V317.4h-0.329zM424.37 237.0h0.329V317.4h-0.329zM424.70 253.5h0.329V317.4h-0.329zM425.03 237.0h0.329V317.4h-0.329zM425.36 255.1h0.329V317.4h-0.329zM425.69 237.0h0.329V317.4h-0.329zM426.02 255.0h0.329V317.4h-0.329zM426.35 252.6h0.329V317.4h-0.329zM426.67 258.2h0.329V317.4h-0.329zM427.00 251.6h0.329V317.4h-0.329zM427.33 241.3h0.329V317.4h-0.329zM427.66 244.4h0.329V317.4h-0.329zM427.99 241.7h0.329V317.4h-0.329zM428.32 244.4h0.329V317.4h-0.329zM428.65 243.6h0.329V317.4h-0.329zM428.98 283.7h0.329V317.4h-0.329zM429.30 286.5h0.329V317.4h-0.329zM429.63 290.3h0.329V317.4h-0.329zM429.96 265.9h0.329V317.4h-0.329zM430.29 256.2h0.329V317.4h-0.329zM430.62 257.2h0.329V317.4h-0.329zM430.95 283.5h0.329V317.4h-0.329zM431.28 239.3h0.329V317.4h-0.329zM431.60 269.1h0.329V317.4h-0.329zM431.93 264.9h0.329V317.4h-0.329zM432.26 268.1h0.329V317.4h-0.329zM432.59 291.6h0.329V317.4h-0.329zM432.92 258.6h0.329V317.4h-0.329zM433.25 265.2h0.329V317.4h-0.329zM433.58 253.1h0.329V317.4h-0.329zM433.90 254.6h0.329V317.4h-0.329zM434.23 254.6h0.329V317.4h-0.329zM434.56 264.4h0.329V317.4h-0.329zM434.89 253.7h0.329V317.4h-0.329zM435.22 254.6h0.329V317.4h-0.329zM435.55 286.3h0.329V317.4h-0.329zM435.88 264.8h0.329V317.4h-0.329zM436.20 261.0h0.329V317.4h-0.329zM436.53 286.1h0.329V317.4h-0.329zM436.86 255.6h0.329V317.4h-0.329zM437.19 246.8h0.329V317.4h-0.329zM437.52 255.0h0.329V317.4h-0.329zM437.85 245.0h0.329V317.4h-0.329zM438.18 246.3h0.329V317.4h-0.329zM438.50 245.0h0.329V317.4h-0.329zM438.83 243.3h0.329V317.4h-0.329zM439.16 243.0h0.329V317.4h-0.329zM439.49 240.6h0.329V317.4h-0.329zM439.82 241.3h0.329V317.4h-0.329zM440.15 288.9h0.329V317.4h-0.329zM440.48 280.7h0.329V317.4h-0.329zM440.80 291.7h0.329V317.4h-0.329zM441.13 248.1h0.329V317.4h-0.329zM441.46 277.1h0.329V317.4h-0.329zM441.79 251.7h0.329V317.4h-0.329zM442.12 244.4h0.329V317.4h-0.329zM442.45 249.8h0.329V317.4h-0.329zM442.78 244.4h0.329V317.4h-0.329zM443.10 251.7h0.329V317.4h-0.329zM443.43 254.5h0.329V317.4h-0.329zM443.76 263.4h0.329V317.4h-0.329zM444.09 252.4h0.329V317.4h-0.329zM444.42 252.4h0.329V317.4h-0.329zM444.75 264.7h0.329V317.4h-0.329zM445.08 252.4h0.329V317.4h-0.329zM445.40 252.4h0.329V317.4h-0.329zM445.73 263.9h0.329V317.4h-0.329zM446.06 266.0h0.329V317.4h-0.329zM446.39 264.2h0.329V317.4h-0.329zM446.72 265.7h0.329V317.4h-0.329zM447.05 259.8h0.329V317.4h-0.329zM447.38 251.7h0.329V317.4h-0.329zM447.70 254.9h0.329V317.4h-0.329zM448.03 262.6h0.329V317.4h-0.329zM448.36 247.3h0.329V317.4h-0.329zM448.69 260.3h0.329V317.4h-0.329zM449.02 253.8h0.329V317.4h-0.329zM449.35 254.6h0.329V317.4h-0.329zM449.68 250.4h0.329V317.4h-0.329zM450.00 276.6h0.329V317.4h-0.329zM450.33 281.5h0.329V317.4h-0.329zM450.66 289.7h0.329V317.4h-0.329zM450.99 262.6h0.329V317.4h-0.329zM451.32 238.5h0.329V317.4h-0.329zM451.65 232.0h0.329V317.4h-0.329zM451.98 238.5h0.329V317.4h-0.329zM452.30 264.9h0.329V317.4h-0.329zM452.63 265.5h0.329V317.4h-0.329zM452.96 257.2h0.329V317.4h-0.329zM453.29 262.0h0.329V317.4h-0.329zM453.62 265.4h0.329V317.4h-0.329zM453.95 256.8h0.329V317.4h-0.329zM454.28 278.4h0.329V317.4h-0.329zM454.60 256.8h0.329V317.4h-0.329zM454.93 261.0h0.329V317.4h-0.329zM455.26 267.0h0.329V317.4h-0.329zM455.59 267.5h0.329V317.4h-0.329zM455.92 259.0h0.329V317.4h-0.329zM456.25 259.8h0.329V317.4h-0.329zM456.58 263.3h0.329V317.4h-0.329zM456.90 260.9h0.329V317.4h-0.329zM457.23 269.3h0.329V317.4h-0.329zM457.56 264.8h0.329V317.4h-0.329zM457.89 271.2h0.329V317.4h-0.329zM458.22 271.2h0.329V317.4h-0.329zM458.55 270.4h0.329V317.4h-0.329zM458.88 285.1h0.329V317.4h-0.329zM459.21 294.4h0.329V317.4h-0.329zM459.53 287.1h0.329V317.4h-0.329zM459.86 267.9h0.329V317.4h-0.329zM460.19 270.2h0.329V317.4h-0.329zM460.52 269.9h0.329V317.4h-0.329zM460.85 265.4h0.329V317.4h-0.329zM461.18 269.2h0.329V317.4h-0.329zM461.51 266.8h0.329V317.4h-0.329zM461.83 265.3h0.329V317.4h-0.329zM462.16 274.0h0.329V317.4h-0.329zM462.49 273.7h0.329V317.4h-0.329zM462.82 276.4h0.329V317.4h-0.329zM463.15 272.2h0.329V317.4h-0.329zM463.48 269.0h0.329V317.4h-0.329zM463.81 270.8h0.329V317.4h-0.329zM464.13 270.5h0.329V317.4h-0.329zM464.46 272.9h0.329V317.4h-0.329zM464.79 272.1h0.329V317.4h-0.329zM465.12 272.4h0.329V317.4h-0.329zM465.45 273.3h0.329V317.4h-0.329zM465.78 274.4h0.329V317.4h-0.329zM466.11 278.8h0.329V317.4h-0.329zM466.43 280.4h0.329V317.4h-0.329zM466.76 281.8h0.329V317.4h-0.329zM467.09 282.6h0.329V317.4h-0.329zM467.42 287.4h0.329V317.4h-0.329zM467.75 283.3h0.329V317.4h-0.329zM468.08 291.6h0.329V317.4h-0.329zM468.41 290.5h0.329V317.4h-0.329zM468.73 293.1h0.329V317.4h-0.329zM469.06 284.1h0.329V317.4h-0.329zM469.39 284.3h0.329V317.4h-0.329zM469.72 285.9h0.329V317.4h-0.329zM470.05 293.7h0.329V317.4h-0.329zM470.38 276.2h0.329V317.4h-0.329zM470.71 292.9h0.329V317.4h-0.329zM471.03 287.9h0.329V317.4h-0.329zM471.36 308.0h0.329V317.4h-0.329zM471.69 287.2h0.329V317.4h-0.329zM472.02 310.0h0.329V317.4h-0.329zM472.35 310.5h0.329V317.4h-0.329zM472.68 311.0h0.329V317.4h-0.329zM473.01 287.7h0.329V317.4h-0.329zM473.33 296.7h0.329V317.4h-0.329zM473.66 311.4h0.329V317.4h-0.329zM473.99 301.5h0.329V317.4h-0.329zM474.32 302.8h0.329V317.4h-0.329zM474.65 302.3h0.329V317.4h-0.329zM474.98 306.4h0.329V317.4h-0.329zM475.31 303.3h0.329V317.4h-0.329zM475.63 299.6h0.329V317.4h-0.329zM475.96 292.8h0.329V317.4h-0.329zM476.29 295.5h0.329V317.4h-0.329zM476.62 298.4h0.329V317.4h-0.329zM476.95 298.0h0.329V317.4h-0.329zM477.28 301.4h0.329V317.4h-0.329zM477.61 299.5h0.329V317.4h-0.329zM477.93 291.0h0.329V317.4h-0.329zM478.26 295.7h0.329V317.4h-0.329zM478.59 292.0h0.329V317.4h-0.329zM478.92 295.8h0.329V317.4h-0.329zM479.25 295.2h0.329V317.4h-0.329zM479.58 295.3h0.329V317.4h-0.329zM479.91 301.8h0.329V317.4h-0.329zM480.23 298.7h0.329V317.4h-0.329zM480.56 301.6h0.329V317.4h-0.329zM480.89 301.9h0.329V317.4h-0.329zM481.22 302.2h0.329V317.4h-0.329zM481.55 300.7h0.329V317.4h-0.329zM481.88 303.3h0.329V317.4h-0.329zM482.21 302.6h0.329V317.4h-0.329zM482.53 301.6h0.329V317.4h-0.329zM482.86 301.2h0.329V317.4h-0.329zM483.19 299.9h0.329V317.4h-0.329zM483.52 301.5h0.329V317.4h-0.329zM483.85 294.6h0.329V317.4h-0.329zM484.18 296.9h0.329V317.4h-0.329zM484.51 311.4h0.329V317.4h-0.329zM484.83 301.4h0.329V317.4h-0.329zM485.16 295.9h0.329V317.4h-0.329zM485.49 301.8h0.329V317.4h-0.329zM485.82 302.6h0.329V317.4h-0.329zM486.15 300.0h0.329V317.4h-0.329zM486.48 307.6h0.329V317.4h-0.329zM486.81 296.3h0.329V317.4h-0.329zM487.13 302.6h0.329V317.4h-0.329zM487.46 297.0h0.329V317.4h-0.329zM487.79 311.7h0.329V317.4h-0.329zM488.12 310.9h0.329V317.4h-0.329zM488.45 308.6h0.329V317.4h-0.329zM488.78 306.6h0.329V317.4h-0.329zM489.11 300.6h0.329V317.4h-0.329zM489.44 299.8h0.329V317.4h-0.329zM489.76 296.8h0.329V317.4h-0.329zM490.09 291.1h0.329V317.4h-0.329zM490.42 310.9h0.329V317.4h-0.329zM490.75 294.5h0.329V317.4h-0.329zM491.08 302.0h0.329V317.4h-0.329zM491.41 300.6h0.329V317.4h-0.329zM491.74 300.7h0.329V317.4h-0.329zM492.06 298.5h0.329V317.4h-0.329zM492.39 299.0h0.329V317.4h-0.329zM492.72 298.3h0.329V317.4h-0.329zM493.05 299.7h0.329V317.4h-0.329zM493.38 297.2h0.329V317.4h-0.329zM493.71 310.5h0.329V317.4h-0.329zM494.04 300.9h0.329V317.4h-0.329zM494.36 299.6h0.329V317.4h-0.329zM494.69 299.9h0.329V317.4h-0.329zM495.02 304.6h0.329V317.4h-0.329zM495.35 295.0h0.329V317.4h-0.329zM495.68 310.4h0.329V317.4h-0.329zM496.01 298.7h0.329V317.4h-0.329zM496.34 293.4h0.329V317.4h-0.329zM496.66 295.3h0.329V317.4h-0.329zM496.99 286.9h0.329V317.4h-0.329zM497.32 285.5h0.329V317.4h-0.329zM497.65 286.5h0.329V317.4h-0.329zM497.98 298.6h0.329V317.4h-0.329zM498.31 292.3h0.329V317.4h-0.329zM498.64 293.2h0.329V317.4h-0.329zM498.96 290.9h0.329V317.4h-0.329zM499.29 286.4h0.329V317.4h-0.329zM499.62 285.4h0.329V317.4h-0.329zM499.95 295.6h0.329V317.4h-0.329zM500.28 293.9h0.329V317.4h-0.329zM500.61 283.0h0.329V317.4h-0.329zM500.94 286.9h0.329V317.4h-0.329zM501.26 294.4h0.329V317.4h-0.329zM501.59 294.7h0.329V317.4h-0.329zM501.92 275.1h0.329V317.4h-0.329zM502.25 283.4h0.329V317.4h-0.329zM502.58 288.3h0.329V317.4h-0.329zM502.91 282.7h0.329V317.4h-0.329zM503.24 292.4h0.329V317.4h-0.329zM503.56 294.9h0.329V317.4h-0.329zM503.89 305.8h0.329V317.4h-0.329zM504.22 311.3h0.329V317.4h-0.329zM504.55 303.7h0.329V317.4h-0.329zM504.88 283.7h0.329V317.4h-0.329zM505.21 277.7h0.329V317.4h-0.329zM505.54 276.0h0.329V317.4h-0.329zM505.86 273.7h0.329V317.4h-0.329zM506.19 269.4h0.329V317.4h-0.329zM506.52 262.5h0.329V317.4h-0.329zM506.85 261.0h0.329V317.4h-0.329zM507.18 264.1h0.329V317.4h-0.329zM507.51 259.6h0.329V317.4h-0.329zM507.84 253.0h0.329V317.4h-0.329zM508.16 252.0h0.329V317.4h-0.329zM508.49 245.1h0.329V317.4h-0.329zM508.82 244.0h0.329V317.4h-0.329zM509.15 244.0h0.329V317.4h-0.329zM509.48 243.2h0.329V317.4h-0.329zM509.81 232.0h0.329V317.4h-0.329zM510.14 232.0h0.329V317.4h-0.329zM510.46 232.0h0.329V317.4h-0.329zM510.79 258.3h0.329V317.4h-0.329zM511.12 270.5h0.329V317.4h-0.329zM511.45 200.4h0.329V317.4h-0.329zM511.78 225.7h0.329V317.4h-0.329zM512.11 200.4h0.329V317.4h-0.329zM512.44 189.0h0.329V317.4h-0.329zM512.76 179.2h0.329V317.4h-0.329zM513.09 189.0h0.329V317.4h-0.329zM513.42 235.4h0.329V317.4h-0.329zM513.75 104.9h0.329V317.4h-0.329zM514.08 208.8h0.329V317.4h-0.329zM514.41 147.4h0.329V317.4h-0.329zM514.74 191.7h0.329V317.4h-0.329zM515.06 217.0h0.329V317.4h-0.329zM515.39 191.7h0.329V317.4h-0.329zM515.72 249.9h0.329V317.4h-0.329zM516.05 227.6h0.329V317.4h-0.329zM516.38 260.2h0.329V317.4h-0.329zM516.71 227.6h0.329V317.4h-0.329zM517.04 227.6h0.329V317.4h-0.329zM517.36 260.5h0.329V317.4h-0.329zM517.69 238.0h0.329V317.4h-0.329zM518.02 244.7h0.329V317.4h-0.329zM518.35 238.0h0.329V317.4h-0.329zM518.68 255.4h0.329V317.4h-0.329zM519.01 238.0h0.329V317.4h-0.329zM519.34 264.4h0.329V317.4h-0.329zM519.67 250.0h0.329V317.4h-0.329zM519.99 226.0h0.329V317.4h-0.329zM520.32 238.4h0.329V317.4h-0.329zM520.65 217.5h0.329V317.4h-0.329zM520.98 222.5h0.329V317.4h-0.329zM521.31 215.3h0.329V317.4h-0.329zM521.64 212.5h0.329V317.4h-0.329zM521.97 259.1h0.329V317.4h-0.329zM522.29 261.4h0.329V317.4h-0.329zM522.62 204.8h0.329V317.4h-0.329zM522.95 238.7h0.329V317.4h-0.329zM523.28 190.0h0.329V317.4h-0.329zM523.61 187.3h0.329V317.4h-0.329zM523.94 190.0h0.329V317.4h-0.329zM524.27 223.9h0.329V317.4h-0.329zM524.59 206.7h0.329V317.4h-0.329zM524.92 260.8h0.329V317.4h-0.329zM525.25 236.4h0.329V317.4h-0.329zM525.58 207.0h0.329V317.4h-0.329zM525.91 246.6h0.329V317.4h-0.329zM526.24 238.5h0.329V317.4h-0.329zM526.57 245.4h0.329V317.4h-0.329zM526.89 217.0h0.329V317.4h-0.329zM527.22 246.6h0.329V317.4h-0.329zM527.55 220.3h0.329V317.4h-0.329zM527.88 213.5h0.329V317.4h-0.329zM528.21 183.0h0.329V317.4h-0.329zM528.54 183.0h0.329V317.4h-0.329zM528.87 183.0h0.329V317.4h-0.329zM529.19 214.3h0.329V317.4h-0.329zM529.52 209.4h0.329V317.4h-0.329zM529.85 220.9h0.329V317.4h-0.329zM530.18 222.2h0.329V317.4h-0.329zM530.51 227.6h0.329V317.4h-0.329zM530.84 215.1h0.329V317.4h-0.329zM531.17 231.3h0.329V317.4h-0.329zM531.49 224.4h0.329V317.4h-0.329zM531.82 227.6h0.329V317.4h-0.329zM532.15 219.6h0.329V317.4h-0.329zM532.48 224.5h0.329V317.4h-0.329zM532.81 183.0h0.329V317.4h-0.329zM533.14 194.6h0.329V317.4h-0.329zM533.47 220.9h0.329V317.4h-0.329zM533.79 194.6h0.329V317.4h-0.329zM534.12 211.7h0.329V317.4h-0.329zM534.45 183.0h0.329V317.4h-0.329zM534.78 161.0h0.329V317.4h-0.329zM535.11 120.2h0.329V317.4h-0.329zM535.44 161.0h0.329V317.4h-0.329zM535.77 183.0h0.329V317.4h-0.329zM536.09 210.4h0.329V317.4h-0.329zM536.42 238.5h0.329V317.4h-0.329zM536.75 224.8h0.329V317.4h-0.329zM537.08 233.9h0.329V317.4h-0.329zM537.41 218.8h0.329V317.4h-0.329zM537.74 227.6h0.329V317.4h-0.329zM538.07 227.6h0.329V317.4h-0.329zM538.39 227.6h0.329V317.4h-0.329zM538.72 227.6h0.329V317.4h-0.329zM539.05 264.3h0.329V317.4h-0.329zM539.38 264.3h0.329V317.4h-0.329zM539.71 205.2h0.329V317.4h-0.329zM540.04 187.3h0.329V317.4h-0.329zM540.37 256.4h0.329V317.4h-0.329zM540.69 242.0h0.329V317.4h-0.329zM541.02 242.0h0.329V317.4h-0.329zM541.35 251.2h0.329V317.4h-0.329zM541.68 242.0h0.329V317.4h-0.329zM542.01 242.0h0.329V317.4h-0.329zM542.34 244.1h0.329V317.4h-0.329zM542.67 221.0h0.329V317.4h-0.329zM542.99 270.0h0.329V317.4h-0.329zM543.32 276.1h0.329V317.4h-0.329zM543.65 278.1h0.329V317.4h-0.329zM543.98 244.0h0.329V317.4h-0.329zM544.31 268.0h0.329V317.4h-0.329zM544.64 244.0h0.329V317.4h-0.329zM544.97 269.1h0.329V317.4h-0.329zM545.29 244.0h0.329V317.4h-0.329zM545.62 260.1h0.329V317.4h-0.329zM545.95 282.8h0.329V317.4h-0.329zM546.28 275.3h0.329V317.4h-0.329zM546.61 267.2h0.329V317.4h-0.329zM546.94 235.3h0.329V317.4h-0.329zM547.27 237.7h0.329V317.4h-0.329zM547.59 236.8h0.329V317.4h-0.329zM547.92 251.3h0.329V317.4h-0.329zM548.25 201.0h0.329V317.4h-0.329zM548.58 209.7h0.329V317.4h-0.329zM548.91 230.5h0.329V317.4h-0.329zM549.24 216.3h0.329V317.4h-0.329zM549.57 243.0h0.329V317.4h-0.329zM549.90 227.6h0.329V317.4h-0.329zM550.22 256.1h0.329V317.4h-0.329zM550.55 257.4h0.329V317.4h-0.329zM550.88 250.8h0.329V317.4h-0.329zM551.21 244.4h0.329V317.4h-0.329zM551.54 255.9h0.329V317.4h-0.329zM551.87 262.2h0.329V317.4h-0.329zM552.20 267.2h0.329V317.4h-0.329zM552.52 267.9h0.329V317.4h-0.329zM552.85 271.7h0.329V317.4h-0.329zM553.18 269.4h0.329V317.4h-0.329zM553.51 270.3h0.329V317.4h-0.329zM553.84 272.1h0.329V317.4h-0.329zM554.17 269.3h0.329V317.4h-0.329zM554.50 259.0h0.329V317.4h-0.329zM554.82 259.0h0.329V317.4h-0.329zM555.15 266.6h0.329V317.4h-0.329zM555.48 259.0h0.329V317.4h-0.329zM555.81 259.0h0.329V317.4h-0.329zM556.14 259.5h0.329V317.4h-0.329zM556.47 265.1h0.329V317.4h-0.329zM556.80 265.0h0.329V317.4h-0.329zM557.12 266.5h0.329V317.4h-0.329zM557.45 266.3h0.329V317.4h-0.329zM557.78 266.4h0.329V317.4h-0.329zM558.11 301.5h0.329V317.4h-0.329zM558.44 291.9h0.329V317.4h-0.329zM558.77 293.4h0.329V317.4h-0.329zM559.10 280.4h0.329V317.4h-0.329zM559.42 278.5h0.329V317.4h-0.329zM559.75 276.3h0.329V317.4h-0.329zM560.08 281.6h0.329V317.4h-0.329zM560.41 282.5h0.329V317.4h-0.329zM560.74 289.5h0.329V317.4h-0.329zM561.07 281.4h0.329V317.4h-0.329zM561.40 280.3h0.329V317.4h-0.329zM561.72 276.9h0.329V317.4h-0.329zM562.05 279.9h0.329V317.4h-0.329zM562.38 274.6h0.329V317.4h-0.329zM562.71 273.6h0.329V317.4h-0.329zM563.04 272.3h0.329V317.4h-0.329zM563.37 272.1h0.329V317.4h-0.329zM563.70 267.7h0.329V317.4h-0.329zM564.02 270.8h0.329V317.4h-0.329zM564.35 268.9h0.329V317.4h-0.329zM564.68 269.9h0.329V317.4h-0.329zM565.01 271.1h0.329V317.4h-0.329zM565.34 279.0h0.329V317.4h-0.329zM565.67 252.1h0.329V317.4h-0.329zM566.00 251.7h0.329V317.4h-0.329zM566.32 273.9h0.329V317.4h-0.329zM566.65 277.0h0.329V317.4h-0.329zM566.98 279.1h0.329V317.4h-0.329zM567.31 276.4h0.329V317.4h-0.329zM567.64 295.1h0.329V317.4h-0.329zM567.97 295.8h0.329V317.4h-0.329zM568.30 277.1h0.329V317.4h-0.329zM568.62 273.0h0.329V317.4h-0.329zM568.95 298.6h0.329V317.4h-0.329zM569.28 292.1h0.329V317.4h-0.329zM569.61 289.8h0.329V317.4h-0.329zM569.94 279.1h0.329V317.4h-0.329zM570.27 280.1h0.329V317.4h-0.329zM570.60 278.4h0.329V317.4h-0.329zM570.92 281.6h0.329V317.4h-0.329zM571.25 282.1h0.329V317.4h-0.329zM571.58 284.1h0.329V317.4h-0.329zM571.91 280.9h0.329V317.4h-0.329zM572.24 282.4h0.329V317.4h-0.329zM572.57 279.7h0.329V317.4h-0.329zM572.90 276.2h0.329V317.4h-0.329zM573.22 278.6h0.329V317.4h-0.329zM573.55 279.6h0.329V317.4h-0.329zM573.88 280.5h0.329V317.4h-0.329zM574.21 279.0h0.329V317.4h-0.329zM574.54 277.8h0.329V317.4h-0.329zM574.87 269.2h0.329V317.4h-0.329zM575.20 272.9h0.329V317.4h-0.329zM575.52 248.8h0.329V317.4h-0.329zM575.85 276.7h0.329V317.4h-0.329zM576.18 276.5h0.329V317.4h-0.329zM576.51 273.8h0.329V317.4h-0.329zM576.84 246.7h0.329V317.4h-0.329zM577.17 274.1h0.329V317.4h-0.329zM577.50 246.6h0.329V317.4h-0.329zM577.82 271.7h0.329V317.4h-0.329zM578.15 280.4h0.329V317.4h-0.329zM578.48 281.3h0.329V317.4h-0.329zM578.81 282.0h0.329V317.4h-0.329zM579.14 281.2h0.329V317.4h-0.329zM579.47 275.4h0.329V317.4h-0.329zM579.80 271.1h0.329V317.4h-0.329zM580.13 282.0h0.329V317.4h-0.329zM580.45 276.4h0.329V317.4h-0.329zM580.78 278.9h0.329V317.4h-0.329zM581.11 284.3h0.329V317.4h-0.329zM581.44 283.2h0.329V317.4h-0.329zM581.77 283.2h0.329V317.4h-0.329zM582.10 284.8h0.329V317.4h-0.329zM582.43 279.9h0.329V317.4h-0.329zM582.75 285.6h0.329V317.4h-0.329zM583.08 284.3h0.329V317.4h-0.329zM583.41 287.8h0.329V317.4h-0.329zM583.74 292.4h0.329V317.4h-0.329zM584.07 292.8h0.329V317.4h-0.329zM584.40 291.8h0.329V317.4h-0.329zM584.73 293.2h0.329V317.4h-0.329zM585.05 290.7h0.329V317.4h-0.329zM585.38 290.3h0.329V317.4h-0.329zM585.71 295.0h0.329V317.4h-0.329zM586.04 289.0h0.329V317.4h-0.329zM586.37 287.9h0.329V317.4h-0.329zM586.70 290.1h0.329V317.4h-0.329zM587.03 304.3h0.329V317.4h-0.329zM587.35 296.9h0.329V317.4h-0.329zM587.68 296.5h0.329V317.4h-0.329zM588.01 295.6h0.329V317.4h-0.329zM588.34 295.4h0.329V317.4h-0.329zM588.67 292.0h0.329V317.4h-0.329zM589.00 297.9h0.329V317.4h-0.329zM589.33 297.7h0.329V317.4h-0.329zM589.65 298.7h0.329V317.4h-0.329zM589.98 297.5h0.329V317.4h-0.329zM590.31 297.4h0.329V317.4h-0.329zM590.64 298.8h0.329V317.4h-0.329zM590.97 298.2h0.329V317.4h-0.329zM591.30 291.4h0.329V317.4h-0.329zM591.63 309.4h0.329V317.4h-0.329zM591.95 303.4h0.329V317.4h-0.329zM592.28 301.4h0.329V317.4h-0.329zM592.61 300.6h0.329V317.4h-0.329zM592.94 291.0h0.329V317.4h-0.329zM593.27 297.2h0.329V317.4h-0.329zM593.60 300.1h0.329V317.4h-0.329zM593.93 297.4h0.329V317.4h-0.329zM594.25 293.1h0.329V317.4h-0.329zM594.58 299.1h0.329V317.4h-0.329zM594.91 293.4h0.329V317.4h-0.329zM595.24 310.9h0.329V317.4h-0.329zM595.57 297.8h0.329V317.4h-0.329zM595.90 309.8h0.329V317.4h-0.329zM596.23 297.8h0.329V317.4h-0.329zM596.55 296.2h0.329V317.4h-0.329zM596.88 301.6h0.329V317.4h-0.329zM597.21 297.6h0.329V317.4h-0.329zM597.54 301.1h0.329V317.4h-0.329zM597.87 307.7h0.329V317.4h-0.329zM598.20 302.2h0.329V317.4h-0.329zM598.53 302.8h0.329V317.4h-0.329zM598.85 303.0h0.329V317.4h-0.329zM599.18 303.8h0.329V317.4h-0.329zM599.51 303.3h0.329V317.4h-0.329zM599.84 298.4h0.329V317.4h-0.329zM600.17 297.1h0.329V317.4h-0.329zM600.50 300.7h0.329V317.4h-0.329zM600.83 299.3h0.329V317.4h-0.329zM601.15 301.2h0.329V317.4h-0.329zM601.48 300.1h0.329V317.4h-0.329zM601.81 299.2h0.329V317.4h-0.329zM602.14 304.0h0.329V317.4h-0.329zM602.47 303.9h0.329V317.4h-0.329zM602.80 302.9h0.329V317.4h-0.329zM603.13 300.7h0.329V317.4h-0.329zM603.45 302.1h0.329V317.4h-0.329zM603.78 299.2h0.329V317.4h-0.329zM604.11 299.8h0.329V317.4h-0.329zM604.44 297.2h0.329V317.4h-0.329zM604.77 299.3h0.329V317.4h-0.329zM605.10 300.3h0.329V317.4h-0.329zM605.43 299.0h0.329V317.4h-0.329zM605.75 299.3h0.329V317.4h-0.329zM606.08 300.7h0.329V317.4h-0.329zM606.41 300.0h0.329V317.4h-0.329zM606.74 305.6h0.329V317.4h-0.329zM607.07 294.4h0.329V317.4h-0.329zM607.40 292.9h0.329V317.4h-0.329zM607.73 298.4h0.329V317.4h-0.329zM608.05 300.2h0.329V317.4h-0.329zM608.38 300.3h0.329V317.4h-0.329zM608.71 299.9h0.329V317.4h-0.329zM609.04 297.0h0.329V317.4h-0.329zM609.37 297.1h0.329V317.4h-0.329zM609.70 293.7h0.329V317.4h-0.329zM610.03 294.2h0.329V317.4h-0.329zM610.36 297.7h0.329V317.4h-0.329zM610.68 291.0h0.329V317.4h-0.329zM611.01 291.2h0.329V317.4h-0.329zM611.34 295.5h0.329V317.4h-0.329zM611.67 291.4h0.329V317.4h-0.329zM612.00 296.2h0.329V317.4h-0.329zM612.33 292.2h0.329V317.4h-0.329zM612.66 296.4h0.329V317.4h-0.329zM612.98 302.2h0.329V317.4h-0.329zM613.31 302.2h0.329V317.4h-0.329zM613.64 303.5h0.329V317.4h-0.329zM613.97 301.8h0.329V317.4h-0.329zM614.30 301.6h0.329V317.4h-0.329zM614.63 301.8h0.329V317.4h-0.329zM614.96 299.6h0.329V317.4h-0.329zM615.28 304.5h0.329V317.4h-0.329zM615.61 297.5h0.329V317.4h-0.329zM615.94 301.9h0.329V317.4h-0.329zM616.27 296.4h0.329V317.4h-0.329zM616.60 294.4h0.329V317.4h-0.329zM616.93 296.0h0.329V317.4h-0.329zM617.26 296.1h0.329V317.4h-0.329zM617.58 294.2h0.329V317.4h-0.329zM617.91 295.7h0.329V317.4h-0.329zM618.24 295.2h0.329V317.4h-0.329zM618.57 294.5h0.329V317.4h-0.329zM618.90 297.5h0.329V317.4h-0.329zM619.23 305.1h0.329V317.4h-0.329zM619.56 297.6h0.329V317.4h-0.329zM619.88 281.0h0.329V317.4h-0.329zM620.21 281.9h0.329V317.4h-0.329zM620.54 280.4h0.329V317.4h-0.329zM620.87 279.4h0.329V317.4h-0.329zM621.20 277.7h0.329V317.4h-0.329zM621.53 276.4h0.329V317.4h-0.329zM621.86 277.9h0.329V317.4h-0.329zM622.18 278.8h0.329V317.4h-0.329zM622.51 277.2h0.329V317.4h-0.329zM622.84 277.2h0.329V317.4h-0.329zM623.17 279.7h0.329V317.4h-0.329zM623.50 278.5h0.329V317.4h-0.329zM623.83 273.1h0.329V317.4h-0.329zM624.16 261.6h0.329V317.4h-0.329zM624.48 261.2h0.329V317.4h-0.329zM624.81 263.0h0.329V317.4h-0.329zM625.14 254.4h0.329V317.4h-0.329zM625.47 258.8h0.329V317.4h-0.329zM625.80 256.1h0.329V317.4h-0.329zM626.13 249.5h0.329V317.4h-0.329zM626.46 261.0h0.329V317.4h-0.329zM626.78 249.5h0.329V317.4h-0.329zM627.11 251.3h0.329V317.4h-0.329zM627.44 249.8h0.329V317.4h-0.329zM627.77 250.3h0.329V317.4h-0.329zM628.10 252.9h0.329V317.4h-0.329zM628.43 251.4h0.329V317.4h-0.329zM628.76 244.0h0.329V317.4h-0.329zM629.08 235.0h0.329V317.4h-0.329zM629.41 244.0h0.329V317.4h-0.329zM629.74 235.0h0.329V317.4h-0.329zM630.07 235.5h0.329V317.4h-0.329zM630.40 227.6h0.329V317.4h-0.329zM630.73 227.6h0.329V317.4h-0.329zM631.06 227.6h0.329V317.4h-0.329zM631.38 218.8h0.329V317.4h-0.329zM631.71 218.8h0.329V317.4h-0.329zM632.04 218.8h0.329V317.4h-0.329zM632.37 208.2h0.329V317.4h-0.329zM632.70 207.7h0.329V317.4h-0.329zM633.03 218.7h0.329V317.4h-0.329zM633.36 141.7h0.329V317.4h-0.329zM633.68 180.0h0.329V317.4h-0.329zM634.01 141.7h0.329V317.4h-0.329zM634.34 141.7h0.329V317.4h-0.329zM634.67 180.0h0.329V317.4h-0.329zM635.00 141.7h0.329V317.4h-0.329zM635.33 167.0h0.329V317.4h-0.329zM635.66 218.9h0.329V317.4h-0.329zM635.98 145.0h0.329V317.4h-0.329zM636.31 167.0h0.329V317.4h-0.329zM636.64 194.6h0.329V317.4h-0.329zM636.97 194.6h0.329V317.4h-0.329zM637.30 204.1h0.329V317.4h-0.329zM637.63 150.0h0.329V317.4h-0.329zM637.96 194.6h0.329V317.4h-0.329zM638.28 211.4h0.329V317.4h-0.329zM638.61 216.7h0.329V317.4h-0.329zM638.94 205.8h0.329V317.4h-0.329zM639.27 175.6h0.329V317.4h-0.329zM639.60 187.3h0.329V317.4h-0.329zM639.93 175.6h0.329V317.4h-0.329zM640.26 158.0h0.329V317.4h-0.329zM640.59 187.3h0.329V317.4h-0.329zM640.91 158.0h0.329V317.4h-0.329zM641.24 250.8h0.329V317.4h-0.329zM641.57 184.4h0.329V317.4h-0.329zM641.90 210.7h0.329V317.4h-0.329zM642.23 184.4h0.329V317.4h-0.329zM642.56 231.0h0.329V317.4h-0.329zM642.89 254.4h0.329V317.4h-0.329zM643.21 231.0h0.329V317.4h-0.329zM643.54 231.0h0.329V317.4h-0.329zM643.87 231.0h0.329V317.4h-0.329zM644.20 231.0h0.329V317.4h-0.329zM644.53 258.8h0.329V317.4h-0.329zM644.86 231.0h0.329V317.4h-0.329zM645.19 231.0h0.329V317.4h-0.329zM645.51 219.5h0.329V317.4h-0.329zM645.84 195.3h0.329V317.4h-0.329zM646.17 195.3h0.329V317.4h-0.329zM646.50 219.0h0.329V317.4h-0.329zM646.83 195.3h0.329V317.4h-0.329zM647.16 195.3h0.329V317.4h-0.329zM647.49 218.7h0.329V317.4h-0.329zM647.81 234.5h0.329V317.4h-0.329zM648.14 202.0h0.329V317.4h-0.329zM648.47 230.4h0.329V317.4h-0.329zM648.80 202.0h0.329V317.4h-0.329zM649.13 208.0h0.329V317.4h-0.329zM649.46 151.7h0.329V317.4h-0.329zM649.79 206.7h0.329V317.4h-0.329zM650.11 151.7h0.329V317.4h-0.329zM650.44 224.4h0.329V317.4h-0.329zM650.77 183.0h0.329V317.4h-0.329zM651.10 216.5h0.329V317.4h-0.329zM651.43 183.0h0.329V317.4h-0.329zM651.76 183.0h0.329V317.4h-0.329zM652.09 185.8h0.329V317.4h-0.329zM652.41 138.6h0.329V317.4h-0.329zM652.74 185.8h0.329V317.4h-0.329zM653.07 185.8h0.329V317.4h-0.329z"/></g></g>
<path d="M62.20 3.0V317.4M70.84 3.0V317.4M79.48 3.0V317.4M88.12 3.0V317.4M96.76 3.0V317.4M105.40 3.0V317.4M114.04 3.0V317.4M122.68 3.0V317.4M131.32 3.0V317.4M139.96 3.0V317.4M148.60 3.0V317.4M157.24 3.0V317.4M165.88 3.0V317.4M174.52 3.0V317.4M183.16 3.0V317.4M191.80 3.0V317.4M200.44 3.0V317.4M209.08 3.0V317.4M217.72 3.0V317.4M226.36 3.0V317.4M235.00 3.0V317.4M243.64 3.0V317.4M252.28 3.0V317.4M260.92 3.0V317.4M269.56 3.0V317.4M278.20 3.0V317.4M286.84 3.0V317.4M295.48 3.0V317.4M304.12 3.0V317.4M312.76 3.0V317.4M321.40 3.0V317.4M330.04 3.0V317.4M338.68 3.0V317.4M347.32 3.0V317.4M355.96 3.0V317.4M364.60 3.0V317.4M373.24 3.0V317.4M381.88 3.0V317.4M390.52 3.0V317.4M399.16 3.0V317.4M407.80 3.0V317.4M416.44 3.0V317.4M425.08 3.0V317.4M433.72 3.0V317.4M442.36 3.0V317.4M451.00 3.0V317.4M459.64 3.0V317.4M468.28 3.0V317.4M476.92 3.0V317.4M485.56 3.0V317.4M494.20 3.0V317.4M502.84 3.0V317.4M511.48 3.0V317.4M520.12 3.0V317.4M528.76 3.0V317.4M537.40 3.0V317.4M546.04 3.0V317.4M554.68 3.0V317.4M563.32 3.0V317.4M571.96 3.0V317.4M580.60 3.0V317.4M589.24 3.0V317.4M597.88 3.0V317.4M606.52 3.0V317.4M615.16 3.0V317.4M623.80 3.0V317.4M632.44 3.0V317.4M641.08 3.0V317.4M649.72 3.0V317.4" stroke="#fff" stroke-opacity="0.26" stroke-width="0.6" fill="none" clip-path="url(#cp)"/>
<path d="M65.60 3.0V317.4M82.08 3.0V317.4M91.52 3.0V317.4M99.36 3.0V317.4M117.44 3.0V317.4M125.28 3.0V317.4M133.92 3.0V317.4M151.20 3.0V317.4M159.84 3.0V317.4M169.28 3.0V317.4M185.76 3.0V317.4M195.20 3.0V317.4M203.04 3.0V317.4M221.12 3.0V317.4M228.96 3.0V317.4M237.60 3.0V317.4M254.88 3.0V317.4M263.52 3.0V317.4M272.96 3.0V317.4M289.44 3.0V317.4M298.88 3.0V317.4M306.72 3.0V317.4M324.80 3.0V317.4M332.64 3.0V317.4M341.28 3.0V317.4M358.56 3.0V317.4M367.20 3.0V317.4M376.64 3.0V317.4M393.12 3.0V317.4M402.56 3.0V317.4M410.40 3.0V317.4M428.48 3.0V317.4M436.32 3.0V317.4M444.96 3.0V317.4M462.24 3.0V317.4M470.88 3.0V317.4M480.32 3.0V317.4M496.80 3.0V317.4M506.24 3.0V317.4M514.08 3.0V317.4M532.16 3.0V317.4M540.00 3.0V317.4M548.64 3.0V317.4M565.92 3.0V317.4M574.56 3.0V317.4M584.00 3.0V317.4M600.48 3.0V317.4M609.92 3.0V317.4M617.76 3.0V317.4M635.84 3.0V317.4M643.68 3.0V317.4M652.32 3.0V317.4" stroke="#fff" stroke-opacity="0.13" stroke-width="0.6" fill="none" clip-path="url(#cp)"/>
<line x1="53.4" x2="653.4" y1="286.15" y2="286.15" stroke="#5b9bd5" stroke-width="3.9"/>
<line x1="53.4" x2="653.4" y1="309.55" y2="309.55" stroke="#ffc000" stroke-width="3.9"/>
<line x1="53.4" x2="53.4" y1="317.4" y2="321.4" stroke="#d9d9d9" stroke-width="1"/>
<line x1="173.4" x2="173.4" y1="317.4" y2="321.4" stroke="#d9d9d9" stroke-width="1"/>
<line x1="293.6" x2="293.6" y1="317.4" y2="321.4" stroke="#d9d9d9" stroke-width="1"/>
<line x1="413.4" x2="413.4" y1="317.4" y2="321.4" stroke="#d9d9d9" stroke-width="1"/>
<line x1="533.4" x2="533.4" y1="317.4" y2="321.4" stroke="#d9d9d9" stroke-width="1"/>
<line x1="653.4" x2="653.4" y1="317.4" y2="321.4" stroke="#d9d9d9" stroke-width="1"/>
<rect x="53.15" y="3.05" width="600.0500000000001" height="314.15" fill="none" stroke="#262626" stroke-width="1.6"/>
<text x="41" y="323.80" text-anchor="end" font-size="14" font-family="'Liberation Serif','Times New Roman',serif" font-weight="bold">0</text>
<text x="41" y="271.40" text-anchor="end" font-size="14" font-family="'Liberation Serif','Times New Roman',serif" font-weight="bold">100</text>
<text x="41" y="219.00" text-anchor="end" font-size="14" font-family="'Liberation Serif','Times New Roman',serif" font-weight="bold">200</text>
<text x="41" y="166.60" text-anchor="end" font-size="14" font-family="'Liberation Serif','Times New Roman',serif" font-weight="bold">300</text>
<text x="41" y="114.20" text-anchor="end" font-size="14" font-family="'Liberation Serif','Times New Roman',serif" font-weight="bold">400</text>
<text x="41" y="61.80" text-anchor="end" font-size="14" font-family="'Liberation Serif','Times New Roman',serif" font-weight="bold">500</text>
<text x="41" y="9.40" text-anchor="end" font-size="14" font-family="'Liberation Serif','Times New Roman',serif" font-weight="bold">600</text>
<text x="53.4" y="338.6" text-anchor="middle" font-size="14" font-family="'Liberation Serif','Times New Roman',serif" font-weight="bold">01-01-2019</text>
<text x="173.2" y="338.6" text-anchor="middle" font-size="14" font-family="'Liberation Serif','Times New Roman',serif" font-weight="bold">01-01-2020</text>
<text x="293.4" y="338.6" text-anchor="middle" font-size="14" font-family="'Liberation Serif','Times New Roman',serif" font-weight="bold">01-01-2021</text>
<text x="413.2" y="338.6" text-anchor="middle" font-size="14" font-family="'Liberation Serif','Times New Roman',serif" font-weight="bold">01-01-2022</text>
<text x="533.4" y="338.6" text-anchor="middle" font-size="14" font-family="'Liberation Serif','Times New Roman',serif" font-weight="bold">01-01-2023</text>
<text x="653.4" y="338.6" text-anchor="middle" font-size="14" font-family="'Liberation Serif','Times New Roman',serif" font-weight="bold">01-01-2024</text>
<text x="353.8" y="356.6" text-anchor="middle" font-size="16" font-family="'Liberation Serif','Times New Roman',serif" font-weight="bold">Year</text>
<text transform="translate(11.6,159.5) rotate(-90)" text-anchor="middle" font-size="15" letter-spacing="0.14" font-family="'Liberation Serif','Times New Roman',serif" font-weight="bold">PM<tspan font-size="10" dy="2.5">2.5</tspan><tspan dy="-2.5" dx="1"> Concentration (μg/m</tspan><tspan font-size="9.5" dy="-4.2">3</tspan><tspan dy="4.2">)</tspan></text>
<rect x="55" y="20.4" width="29" height="7.2" fill="#70ad47"/>
<text x="88.2" y="28.2" font-size="13.8" font-family="'Liberation Serif','Times New Roman',serif" font-weight="bold">PM2.5 Concentration</text>
<line x1="222.1" x2="251.4" y1="24.0" y2="24.0" stroke="#5b9bd5" stroke-width="3.8" stroke-linecap="round"/>
<text x="255.1" y="28.2" font-size="13.8" font-family="'Liberation Serif','Times New Roman',serif" font-weight="bold">NAAQS Daily PM2.5 Standard</text>
<line x1="446.3" x2="476.4" y1="24.0" y2="24.0" stroke="#ffc000" stroke-width="3.8" stroke-linecap="round"/>
<text x="479.8" y="28.2" font-size="13.8" font-family="'Liberation Serif','Times New Roman',serif" font-weight="bold">WHO Daily PM2.5 Standard</text>
</svg></body></html>
